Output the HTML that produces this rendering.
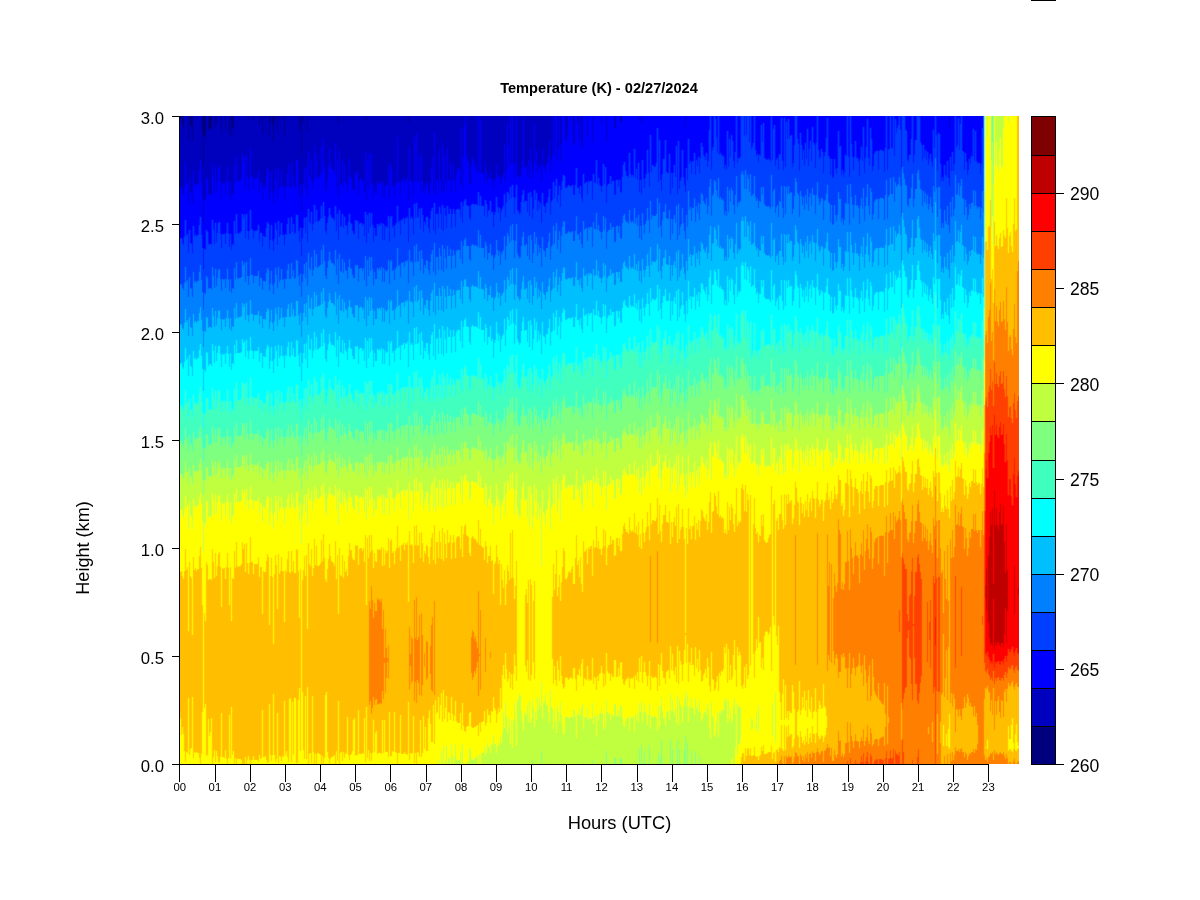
<!DOCTYPE html>
<html><head><meta charset="utf-8"><title>Temperature (K) - 02/27/2024</title>
<style>
html,body{margin:0;padding:0;background:#fff;}
body{width:1200px;height:900px;overflow:hidden;}
svg{display:block;will-change:transform;}
text{font-family:"Liberation Sans",sans-serif;fill:#000;}
.ax{stroke:#000;stroke-width:1;fill:none;shape-rendering:crispEdges;}
.yl{font-size:16.7px;text-anchor:end;}
.xl{font-size:11.3px;text-anchor:middle;}
.cl{font-size:17.6px;text-anchor:start;}
</style></head><body>
<svg width="1200" height="900" viewBox="0 0 1200 900">
<rect width="1200" height="900" fill="#fff"/>
<rect x="1031" y="0" width="25" height="1" fill="#000" shape-rendering="crispEdges"/>
<text x="599" y="92.5" text-anchor="middle" font-size="14.6" font-weight="bold">Temperature (K) - 02/27/2024</text>
<defs><filter id="soft" x="179" y="116" width="840" height="648" filterUnits="userSpaceOnUse"><feConvolveMatrix order="3 3" kernelMatrix="0 0.08 0 0.14 0.56 0.14 0 0.08 0" edgeMode="duplicate" preserveAlpha="true"/></filter>
<clipPath id="pc"><rect x="179" y="116" width="840" height="648"/></clipPath></defs>
<rect x="179" y="116" width="840" height="648" fill="#FFBF00"/>
<g clip-path="url(#pc)"><g filter="url(#soft)"><g transform="translate(0.5,0)" fill="none" stroke-width="1" shape-rendering="crispEdges">
<path stroke="#00007F" d="M179 116v4M180 116v3M181 116v2M182 116v9M183 116v12M184 116v1M188 116v25M190 116v9M191 116v11M192 116v25M196 116v2M202 116v18M203 116v50M204 116v20M205 116v22M208 116v14M209 116v12M210 116v13M211 116v14M214 116v12M216 116v9M221 116v18M225 116v13M229 116v17M231 116v21M232 116v11M233 116v13M245 116v1M248 116v5M253 116v4M259 116v9M262 116v18M264 116v2M265 116v2M269 116v21M270 116v7M272 116v9M273 116v26M274 116v5M277 116v16M279 116v4M280 116v1M282 116v1M284 116v19M299 116v15M301 116v38M302 116v8M307 116v16M326 116v1M338 116v7M366 116v5M373 116v2M408 116v6"/>
<path stroke="#0000BF" d="M179 120v69M180 119v69M181 118v69M182 125v68M183 128v67M184 117v70M185 116v46M186 116v69M187 116v66M188 141v63M189 116v61M190 125v67M191 127v67M192 141v63M193 116v55M194 116v69M195 116v68M196 118v69M197 116v68M198 116v68M199 116v54M200 116v44M201 116v67M202 134v64M203 166v56M204 136v64M205 138v63M206 116v61M207 116v63M208 130v65M209 128v66M210 129v65M211 130v66M212 116v47M213 116v61M214 128v66M215 116v51M216 125v67M217 116v65M218 116v52M219 116v50M220 116v66M221 134v64M222 116v67M223 116v68M224 116v66M225 129v66M226 116v65M227 116v51M228 116v67M229 133v65M230 116v66M231 137v64M232 127v67M233 129v66M234 116v49M235 116v67M236 116v39M237 116v64M238 116v66M239 116v65M240 116v65M241 116v62M242 116v38M243 116v46M244 116v41M245 117v70M246 116v39M247 116v61M248 121v69M249 116v62M250 116v33M251 116v60M252 116v61M253 120v69M254 116v63M255 116v62M256 116v62M257 116v62M258 116v55M259 125v68M260 116v66M261 116v67M262 134v65M263 116v70M264 118v69M265 118v70M266 116v60M267 116v52M268 116v55M269 137v64M270 123v69M271 116v56M272 125v67M273 142v62M274 121v69M275 116v53M276 116v64M277 132v65M278 116v52M279 120v69M280 117v70M281 116v55M282 117v70M283 116v71M284 135v64M285 116v70M286 116v71M287 116v58M288 116v48M289 116v71M290 116v72M291 116v47M292 116v70M293 116v59M294 116v72M295 116v71M296 116v44M297 116v45M298 116v70M299 131v66M300 116v68M301 154v57M302 124v69M303 116v68M304 116v52M305 116v73M306 116v50M307 132v66M308 116v35M309 116v61M310 116v64M311 116v43M312 116v73M313 116v66M314 116v30M315 116v61M316 116v38M317 116v63M318 116v62M319 116v60M320 116v58M321 116v30M322 116v56M323 116v22M324 116v51M325 116v73M326 117v75M327 116v64M328 116v51M329 116v32M330 116v47M331 116v53M332 116v54M333 116v55M334 116v59M335 116v27M336 116v72M337 116v44M338 123v74M339 116v34M340 116v68M341 116v69M342 116v43M343 116v70M344 116v49M345 116v66M346 116v68M347 116v76M348 116v61M349 116v42M350 116v61M351 116v63M352 116v72M353 116v74M354 116v75M355 116v56M356 116v58M357 116v56M358 116v80M359 116v65M360 116v62M361 116v63M362 116v67M363 116v65M364 116v77M365 116v36M366 121v79M367 116v44M368 116v74M369 116v37M370 116v69M371 116v38M372 116v67M373 118v81M374 116v70M375 116v77M376 116v78M377 116v66M378 116v68M379 116v67M380 116v68M381 116v65M382 116v81M383 116v66M384 116v81M385 116v69M386 116v70M387 116v69M388 116v48M389 116v83M390 116v54M391 116v49M392 116v71M393 116v70M394 116v80M395 116v69M396 116v67M397 116v21M398 116v67M399 116v66M400 116v78M401 116v65M402 116v65M403 116v62M404 116v69M405 116v63M406 116v65M407 116v61M408 122v79M409 116v32M410 116v66M411 116v65M412 116v66M413 116v79M414 116v21M415 116v66M416 116v17M417 116v66M418 116v66M419 116v40M420 116v75M421 116v37M422 116v65M423 116v78M424 116v70M425 116v73M426 116v66M427 116v67M428 116v75M429 116v79M430 116v68M431 116v53M432 116v41M433 116v77M434 116v16M435 116v80M436 116v64M437 116v64M438 116v75M439 116v34M440 116v64M441 116v76M442 116v26M443 116v77M444 116v40M445 116v66M446 116v75M447 116v32M448 116v64M449 116v64M450 116v46M451 116v76M452 116v65M453 116v48M454 116v64M455 116v75M456 116v58M457 116v52M458 116v53M459 116v54M460 116v68M461 116v12M462 116v72M463 116v41M464 116v10M465 116v1M466 116v40M467 116v44M468 116v47M469 116v67M470 116v69M471 116v50M472 116v41M473 116v44M474 116v51M475 116v48M476 116v54M477 116v56M479 116v57M480 116v3M481 116v57M482 116v57M483 116v58M484 116v66M485 116v47M486 116v56M487 116v67M488 116v62M489 116v62M490 116v55M491 116v64M492 116v63M493 116v73M494 116v65M495 116v63M496 116v48M497 116v59M498 116v63M499 116v60M500 116v69M501 116v62M502 116v60M503 116v58M504 116v28M505 116v65M506 116v55M507 116v7M508 116v30M509 116v51M511 116v48M513 116v47M514 116v62M515 116v48M517 116v59M518 116v60M519 116v62M520 116v61M521 116v52M522 116v45M523 116v1M524 116v52M525 116v51M526 116v50M527 116v59M528 116v44M529 116v62M530 116v32M531 116v46M532 116v63M533 116v55M534 116v7M535 116v48M536 116v35M537 116v57M538 116v48M539 116v54M540 116v49M541 116v65M542 116v32M543 116v50M544 116v51M545 116v56M546 116v48M547 116v47M548 116v39M549 116v24M550 116v56M551 116v44M552 116v41M554 116v39M557 116v44M558 116v33M560 116v46M561 116v28M565 116v25M566 116v25M567 116v19M570 116v10M571 116v1M573 116v29M574 116v29M577 116v9M578 116v5M579 116v25M581 116v29M582 116v33M587 116v20M592 116v27M601 116v9M606 116v26M614 116v13M615 116v12M620 116v6M621 116v7M639 116v4M641 116v7M670 116v2M685 116v11M949 116v13"/>
<path stroke="#0000FF" d="M179 189v50M180 188v51M181 187v51M182 193v50M183 195v50M184 187v50M185 162v58M186 185v51M187 182v52M188 204v49M189 177v53M190 192v51M191 194v50M192 204v49M193 171v55M194 185v51M195 184v51M196 187v50M197 184v51M198 184v51M199 170v55M200 160v57M201 183v52M202 198v50M203 222v47M204 200v49M205 201v49M206 177v53M207 179v53M208 195v50M209 194v50M210 194v50M211 196v49M212 163v57M213 177v53M214 194v50M215 167v56M216 192v50M217 181v52M218 168v55M219 166v56M220 182v52M221 198v50M222 183v51M223 184v51M224 182v52M225 195v49M226 181v52M227 167v56M228 183v51M229 198v49M230 182v52M231 201v49M232 194v50M233 195v50M234 165v56M235 183v51M236 155v59M237 180v53M238 182v52M239 181v52M240 181v52M241 178v53M242 154v60M243 162v57M244 157v58M245 187v51M246 155v59M247 177v54M248 190v50M249 178v53M250 149v61M251 176v53M252 177v53M253 189v50M254 179v52M255 178v53M256 178v53M257 178v52M258 171v54M259 193v49M260 182v51M261 183v50M262 199v48M263 186v50M264 187v50M265 188v49M266 176v52M267 168v54M268 171v53M269 201v48M270 192v48M271 172v53M272 192v49M273 204v47M274 190v49M275 169v54M276 180v50M277 197v48M278 168v53M279 189v48M280 187v48M281 171v52M282 187v48M283 187v48M284 199v47M285 186v48M286 187v48M287 174v50M288 164v54M289 187v47M290 188v46M291 163v54M292 186v46M293 175v49M294 188v46M295 187v46M296 160v55M297 161v54M298 186v45M299 197v45M300 184v44M301 211v45M302 193v45M303 184v44M304 168v50M305 189v44M306 166v51M307 198v44M308 151v58M309 177v45M310 180v44M311 159v53M312 189v42M313 182v42M314 146v59M315 177v45M316 154v56M317 179v43M318 178v43M319 176v45M320 174v45M321 146v60M322 172v46M323 138v64M324 167v49M325 189v42M326 192v42M327 180v43M328 167v50M329 148v60M330 163v52M331 169v49M332 170v48M333 171v48M334 175v46M335 143v63M336 188v43M337 160v54M338 197v43M339 150v60M340 184v42M341 185v42M342 159v55M343 186v42M344 165v52M345 182v43M346 184v42M347 192v43M348 177v45M349 158v56M350 177v46M351 179v45M352 188v43M353 190v44M354 191v43M355 172v48M356 174v47M357 172v49M358 196v43M359 181v43M360 178v45M361 179v44M362 183v43M363 181v43M364 193v43M365 152v60M366 200v43M367 160v55M368 190v43M369 153v60M370 185v42M371 154v59M372 183v42M373 199v43M374 186v42M375 193v43M376 194v42M377 182v42M378 184v42M379 183v41M380 184v42M381 181v42M382 197v43M383 182v42M384 197v43M385 185v41M386 186v42M387 185v42M388 164v52M389 199v43M390 170v48M391 165v51M392 187v41M393 186v40M394 196v41M395 185v40M396 183v40M397 137v69M398 183v40M399 182v39M400 194v41M401 181v39M402 181v39M403 178v40M404 185v39M405 179v39M406 181v38M407 177v40M408 201v41M409 148v60M410 182v37M411 181v36M412 182v37M413 195v39M414 137v67M415 182v36M416 133v70M417 182v36M418 182v35M419 156v53M420 191v38M421 153v55M422 181v34M423 194v38M424 186v36M425 189v36M426 182v35M427 183v34M428 191v37M429 195v38M430 184v35M431 169v42M432 157v51M433 193v37M434 132v71M435 196v38M436 180v34M437 180v34M438 191v37M439 150v57M440 180v34M441 192v37M442 142v63M443 193v38M444 156v52M445 182v34M446 191v37M447 148v58M448 180v34M449 180v34M450 162v47M451 192v36M452 181v33M453 164v45M454 180v34M455 191v36M456 174v36M457 168v41M458 169v40M459 170v40M460 184v34M461 128v74M462 188v35M463 157v49M464 126v75M465 117v82M466 156v49M467 160v46M468 163v43M469 183v35M470 185v35M471 166v39M472 157v47M473 160v44M474 167v38M475 164v40M476 170v35M477 172v33M478 116v76M479 173v33M480 119v77M481 173v33M482 173v33M483 174v32M484 182v34M485 163v37M486 172v32M487 183v34M488 178v33M489 178v32M490 171v30M491 180v33M492 179v33M493 189v38M494 181v34M495 179v33M496 164v33M497 175v32M498 179v34M499 176v32M500 185v37M501 178v33M502 176v33M503 174v32M504 144v50M505 181v36M506 171v32M507 123v69M508 146v48M509 167v33M510 116v71M511 164v34M512 116v69M513 163v34M514 178v36M515 164v34M516 116v69M517 175v35M518 176v36M519 178v37M520 177v36M521 168v34M522 161v34M523 117v73M524 168v35M525 167v34M526 166v35M527 175v37M528 160v33M529 178v38M530 148v44M531 162v35M532 179v40M533 171v38M534 123v67M535 164v36M536 151v42M537 173v38M538 164v37M539 170v39M540 165v38M541 181v42M542 148v45M543 166v39M544 167v40M545 172v41M546 164v39M547 163v40M548 155v42M549 140v49M550 172v43M551 160v42M552 157v43M553 116v66M554 155v43M555 116v70M556 116v63M557 160v43M558 149v46M559 116v70M560 162v45M561 144v46M562 116v65M563 116v59M564 116v60M565 141v47M566 141v47M567 135v52M568 116v69M569 116v70M570 126v61M571 117v69M572 116v69M573 145v50M574 145v50M575 116v69M576 116v52M577 125v63M578 121v67M579 141v53M580 116v70M581 145v53M582 149v53M583 116v58M584 116v68M585 116v67M586 116v66M587 136v59M588 116v65M589 116v67M590 116v65M591 116v65M592 143v57M593 116v58M594 116v67M595 116v67M596 116v44M597 116v68M598 116v62M599 116v69M600 116v70M601 125v67M602 116v70M603 116v48M604 116v68M605 116v51M606 142v61M607 116v70M608 116v68M609 116v68M610 116v60M611 116v68M612 116v65M613 116v65M614 129v66M615 128v67M616 116v64M617 116v64M618 116v71M619 116v64M620 122v70M621 123v70M622 116v61M623 116v49M624 116v46M625 116v55M626 116v60M627 116v60M628 116v62M629 116v37M630 116v58M631 116v61M632 116v59M633 116v61M634 116v33M635 116v62M636 116v53M637 116v64M638 116v47M639 120v72M640 116v64M641 123v71M642 116v44M643 116v63M644 116v72M645 116v62M646 116v58M647 116v34M648 116v57M649 116v71M650 116v19M651 116v56M652 116v49M653 116v50M654 116v51M655 116v51M656 116v47M657 116v12M658 116v66M659 116v24M660 116v64M661 116v75M662 116v58M663 116v43M664 116v43M665 116v24M666 116v56M667 116v57M668 116v57M669 116v38M670 118v76M671 116v57M672 116v72M673 116v57M674 116v49M675 116v61M676 116v30M677 116v78M678 116v25M679 116v73M680 116v65M681 116v62M682 116v34M683 116v61M684 116v69M685 127v65M686 116v52M687 116v64M688 116v23M689 116v48M690 116v45M691 116v58M692 116v46M693 116v45M694 116v37M695 116v59M696 116v44M697 116v50M698 116v41M699 116v57M700 116v42M701 116v27M702 116v31M703 116v39M704 116v41M705 116v44M706 116v37M707 116v51M708 116v45M709 116v14M711 116v54M712 116v34M713 116v31M715 116v3M716 116v22M717 116v37M719 116v39M720 116v37M721 116v40M722 116v39M723 116v41M724 116v53M725 116v49M726 116v54M727 116v15M728 116v51M729 116v23M730 116v41M731 116v19M732 116v25M733 116v45M734 116v52M735 116v36M737 116v47M738 116v42M739 116v43M740 116v41M744 116v20M746 116v19M749 116v26M751 116v33M752 116v31M753 116v27M755 116v34M756 116v40M757 116v38M758 116v46M759 116v39M760 116v40M761 116v9M762 116v26M763 116v7M764 116v42M765 116v43M766 116v44M767 116v44M768 116v43M769 116v44M770 116v46M772 116v44M773 116v13M774 116v9M775 116v50M776 116v44M777 116v42M778 116v54M779 116v38M780 116v39M781 116v2M782 116v45M783 116v54M784 116v2M785 116v51M786 116v6M787 116v23M788 116v3M789 116v23M790 116v20M791 116v19M792 116v51M793 116v47M794 116v29M797 116v23M798 116v28M799 116v55M800 116v17M801 116v29M802 116v44M803 116v34M804 116v49M805 116v27M806 116v43M807 116v13M808 116v50M809 116v33M810 116v25M811 116v45M812 116v11M813 116v27M814 116v29M815 116v52M816 116v27M818 116v34M819 116v43M820 116v41M821 116v33M822 116v36M823 116v57M824 116v40M825 116v36M826 116v22M827 116v2M828 116v40M829 116v42M830 116v59M831 116v43M832 116v62M833 116v61M834 116v43M835 116v53M836 116v58M837 116v52M838 116v15M839 116v31M840 116v30M841 116v59M842 116v54M843 116v61M844 116v57M845 116v39M846 116v40M848 116v41M849 116v61M851 116v28M852 116v41M853 116v54M854 116v41M855 116v25M856 116v42M857 116v42M858 116v45M859 116v60M860 116v43M861 116v31M862 116v45M863 116v11M864 116v57M865 116v42M866 116v31M867 116v3M868 116v42M869 116v50M870 116v12M871 116v23M872 116v55M873 116v50M874 116v38M875 116v36M876 116v35M877 116v35M878 116v54M879 116v35M880 116v34M881 116v34M882 116v35M883 116v35M884 116v56M885 116v32M887 116v54M888 116v34M889 116v33M891 116v32M892 116v32M894 116v40M895 116v3M896 116v17M897 116v12M898 116v9M900 116v14M901 116v54M905 116v14M906 116v15M907 116v44M908 116v46M909 116v39M910 116v39M911 116v23M913 116v47M914 116v39M915 116v24M916 116v24M919 116v1M920 116v26M921 116v29M922 116v45M923 116v29M924 116v42M925 116v34M926 116v44M927 116v36M928 116v49M929 116v43M930 116v38M931 116v46M932 116v51M933 116v14M934 116v32M936 116v19M937 116v55M938 116v17M939 116v18M940 116v48M941 116v65M942 116v61M943 116v65M944 116v49M945 116v59M946 116v61M947 116v45M948 116v62M949 129v57M950 116v41M951 116v55M952 116v36M953 116v55M954 116v48M956 116v32M957 116v29M958 116v2M959 116v34M960 116v8M962 116v35M963 116v36M964 116v54M965 116v37M966 116v46M967 116v59M968 116v54M969 116v43M970 116v48M971 116v40M972 116v41M973 116v13M974 116v45M975 116v15M976 116v45M977 116v48M978 116v47M979 116v47M980 116v58M981 116v48M982 116v12M983 116v52"/>
<path stroke="#003FFF" d="M179 239v46M180 239v46M181 238v46M182 243v45M183 245v45M184 237v46M185 220v47M186 236v46M187 234v46M188 253v44M189 230v47M190 243v45M191 244v45M192 253v44M193 226v46M194 236v46M195 235v46M196 237v46M197 235v46M198 235v46M199 225v47M200 217v48M201 235v45M202 248v44M203 269v41M204 249v44M205 250v44M206 230v46M207 232v46M208 245v44M209 244v44M210 244v44M211 245v45M212 220v47M213 230v46M214 244v44M215 223v46M216 242v44M217 233v45M218 223v47M219 222v47M220 234v45M221 248v43M222 234v45M223 235v45M224 234v45M225 244v44M226 233v46M227 223v46M228 234v46M229 247v44M230 234v45M231 250v43M232 244v44M233 245v44M234 221v47M235 234v46M236 214v48M237 233v45M238 234v45M239 233v45M240 233v45M241 231v46M242 214v47M243 219v47M244 215v48M245 238v44M246 214v48M247 231v45M248 240v45M249 231v45M250 210v48M251 229v46M252 230v45M253 239v44M254 231v45M255 231v45M256 231v45M257 230v46M258 225v46M259 242v44M260 233v45M261 233v45M262 247v43M263 236v45M264 237v44M265 237v45M266 228v45M267 222v46M268 224v46M269 249v42M270 240v44M271 225v46M272 241v44M273 251v43M274 239v44M275 223v45M276 230v45M277 245v43M278 221v46M279 237v45M280 235v45M281 223v46M282 235v45M283 235v44M284 246v43M285 234v45M286 235v44M287 224v46M288 218v46M289 234v45M290 234v45M291 217v46M292 232v45M293 224v46M294 234v45M295 233v45M296 215v45M297 215v46M298 231v45M299 242v44M300 228v46M301 256v41M302 238v44M303 228v46M304 218v46M305 233v45M306 217v45M307 242v44M308 209v44M309 222v46M310 224v46M311 212v45M312 231v45M313 224v46M314 205v45M315 222v45M316 210v44M317 222v46M318 221v46M319 221v45M320 219v46M321 206v44M322 218v46M323 202v43M324 216v45M325 231v45M326 234v45M327 223v45M328 217v44M329 208v44M330 215v45M331 218v45M332 218v45M333 219v45M334 221v45M335 206v44M336 231v44M337 214v45M338 240v44M339 210v44M340 226v45M341 227v45M342 214v45M343 228v45M344 217v45M345 225v45M346 226v45M347 235v44M348 222v45M349 214v45M350 223v45M351 224v45M352 231v44M353 234v44M354 234v44M355 220v45M356 221v45M357 221v44M358 239v43M359 224v45M360 223v45M361 223v45M362 226v45M363 224v44M364 236v44M365 212v44M366 243v43M367 215v45M368 233v43M369 213v44M370 227v44M371 213v44M372 225v44M373 242v43M374 228v44M375 236v43M376 236v43M377 224v44M378 226v44M379 224v44M380 226v44M381 223v44M382 240v42M383 224v44M384 240v42M385 226v44M386 228v44M387 227v43M388 216v44M389 242v42M390 218v44M391 216v44M392 228v43M393 226v44M394 237v43M395 225v44M396 223v44M397 206v42M398 223v43M399 221v44M400 235v42M401 220v43M402 220v43M403 218v44M404 224v43M405 218v43M406 219v43M407 217v43M408 242v41M409 208v42M410 219v43M411 217v44M412 219v44M413 234v42M414 204v42M415 218v44M416 203v41M417 218v44M418 217v44M419 209v42M420 229v42M421 208v42M422 215v44M423 232v42M424 222v43M425 225v43M426 217v43M427 217v44M428 228v42M429 233v42M430 219v43M431 211v43M432 208v42M433 230v42M434 203v40M435 234v41M436 214v43M437 214v43M438 228v42M439 207v41M440 214v42M441 229v41M442 205v40M443 231v41M444 208v41M445 216v42M446 228v41M447 206v40M448 214v42M449 214v42M450 209v40M451 228v41M452 214v42M453 209v41M454 214v41M455 227v41M456 210v41M457 209v41M458 209v41M459 210v40M460 218v41M461 202v39M462 223v41M463 206v40M464 201v39M465 199v39M466 205v41M467 206v40M468 206v40M469 218v41M470 220v41M471 205v41M472 204v40M473 204v41M474 205v41M475 204v41M476 205v41M477 205v42M478 192v38M479 206v42M480 196v39M481 206v42M482 206v42M483 206v42M484 216v42M485 200v42M486 204v42M487 217v43M488 211v42M489 210v43M490 201v43M491 213v43M492 212v43M493 227v43M494 215v43M495 212v43M496 197v43M497 207v43M498 213v43M499 208v43M500 222v43M501 211v43M502 209v43M503 206v44M504 194v42M505 217v43M506 203v43M507 192v41M508 194v42M509 200v43M510 187v39M511 198v43M512 185v39M513 197v43M514 214v44M515 198v43M516 185v39M517 210v43M518 212v44M519 215v44M520 213v44M521 202v44M522 195v42M523 190v42M524 203v43M525 201v44M526 201v43M527 212v44M528 193v43M529 216v44M530 192v43M531 197v43M532 219v44M533 209v44M534 190v42M535 200v44M536 193v44M537 211v45M538 201v44M539 209v44M540 203v45M541 223v44M542 193v44M543 205v45M544 207v44M545 213v44M546 203v45M547 203v45M548 197v45M549 189v44M550 215v45M551 202v45M552 200v45M553 182v44M554 198v46M555 186v45M556 179v44M557 203v46M558 195v45M559 186v45M560 207v46M561 190v46M562 181v46M563 175v46M564 176v46M565 188v46M566 188v46M567 187v46M568 185v46M569 186v46M570 187v46M571 186v46M572 185v46M573 195v46M574 195v46M575 185v46M576 168v48M577 188v47M578 188v46M579 194v46M580 186v46M581 198v46M582 202v46M583 174v47M584 184v46M585 183v46M586 182v46M587 195v46M588 181v46M589 183v46M590 181v46M591 181v46M592 200v47M593 174v48M594 183v46M595 183v46M596 160v53M597 184v46M598 178v47M599 185v46M600 186v46M601 192v47M602 186v46M603 164v52M604 184v46M605 167v51M606 203v46M607 186v46M608 184v46M609 184v46M610 176v47M611 184v46M612 181v46M613 181v46M614 195v47M615 195v47M616 180v46M617 180v46M618 187v46M619 180v46M620 192v46M621 193v46M622 177v46M623 165v51M624 162v52M625 171v49M626 176v46M627 176v46M628 178v46M629 153v57M630 174v47M631 177v46M632 175v46M633 177v46M634 149v59M635 178v46M636 169v49M637 180v46M638 163v52M639 192v46M640 180v46M641 194v46M642 160v53M643 179v46M644 188v46M645 178v46M646 174v47M647 150v58M648 173v47M649 187v46M650 135v66M651 172v47M652 165v50M653 166v50M654 167v49M655 167v49M656 163v51M657 128v70M658 182v46M659 140v63M660 180v46M661 191v46M662 174v46M663 159v53M664 159v53M665 140v64M666 172v46M667 173v46M668 173v46M669 154v56M670 194v46M671 173v46M672 188v46M673 173v46M674 165v50M675 177v46M676 146v60M677 194v46M678 141v63M679 189v46M680 181v46M681 178v46M682 150v58M683 177v46M684 185v46M685 192v47M686 168v47M687 180v47M688 139v52M689 164v46M690 161v46M691 174v47M692 162v46M693 161v47M694 153v45M695 175v47M696 160v46M697 166v47M698 157v46M699 173v47M700 158v46M701 143v50M702 147v48M703 155v46M704 157v46M705 160v45M706 153v45M707 167v47M708 161v45M709 130v57M710 116v63M711 170v46M712 150v46M713 147v47M714 116v64M715 119v63M716 138v52M717 153v44M718 116v62M719 155v44M720 153v44M721 156v44M722 155v44M723 157v44M724 169v46M725 165v46M726 170v46M727 131v56M728 167v45M729 139v51M730 157v45M731 135v53M732 141v50M733 161v44M734 168v46M735 152v43M736 116v60M737 163v44M738 158v44M739 159v44M740 157v44M741 116v58M742 116v55M743 116v59M744 136v53M745 116v54M746 135v54M747 116v59M748 116v63M749 142v50M750 116v58M751 149v47M752 147v48M753 143v51M754 116v60M755 150v47M756 156v45M757 154v45M758 162v46M759 155v46M760 156v46M761 125v62M762 142v53M763 123v64M764 158v46M765 159v47M766 160v46M767 160v47M768 159v47M769 160v47M770 162v47M771 116v59M772 160v47M773 129v62M774 125v64M775 166v47M776 160v47M777 158v47M778 170v47M779 154v47M780 155v47M781 118v68M782 161v47M783 170v48M784 118v68M785 167v47M786 122v65M787 139v55M788 119v67M789 139v55M790 136v57M791 135v57M792 167v47M793 163v46M794 145v51M795 116v62M796 116v66M797 139v54M798 144v51M799 171v46M800 133v58M801 145v51M802 160v45M803 150v47M804 165v45M805 143v52M806 159v45M807 129v60M808 166v45M809 149v48M810 141v52M811 161v45M812 127v61M813 143v52M814 145v50M815 168v46M816 143v52M817 116v66M818 150v48M819 159v46M820 157v45M821 149v49M822 152v47M823 173v47M824 156v45M825 152v48M826 138v56M827 118v67M828 156v46M829 158v46M830 175v47M831 159v46M832 178v47M833 177v47M834 159v46M835 169v46M836 174v47M837 168v47M838 131v61M839 147v52M840 146v53M841 175v47M842 170v48M843 177v48M844 173v47M845 155v48M846 156v48M847 116v69M848 157v47M849 177v48M850 116v68M851 144v53M852 157v48M853 170v48M854 157v48M855 141v54M856 158v48M857 158v47M858 161v47M859 176v48M860 159v47M861 147v51M862 161v48M863 127v61M864 173v48M865 158v48M866 147v50M867 119v65M868 158v48M869 166v49M870 128v60M871 139v53M872 171v49M873 166v48M874 154v48M875 152v48M876 151v48M877 151v48M878 170v49M879 151v48M880 150v48M881 150v48M882 151v47M883 151v48M884 172v48M885 148v47M886 116v64M887 170v49M888 150v47M889 149v46M890 116v62M891 148v46M892 148v46M893 116v61M894 156v46M895 119v63M896 133v54M897 128v57M898 125v59M899 116v61M900 130v56M901 170v47M902 116v51M903 116v57M904 116v63M905 130v55M906 131v55M907 160v45M908 162v45M909 155v44M910 155v43M911 139v49M912 116v58M913 163v44M914 155v44M915 140v49M916 140v49M917 116v57M918 116v54M919 117v63M920 142v47M921 145v45M922 161v45M923 145v46M924 158v44M925 150v43M926 160v44M927 152v43M928 165v45M929 159v45M930 154v43M931 162v45M932 167v46M933 130v56M934 148v44M935 116v42M936 135v53M937 171v46M938 133v54M939 134v53M940 164v45M941 181v47M942 177v46M943 181v47M944 165v45M945 175v46M946 177v47M947 161v45M948 178v47M949 186v47M950 157v45M951 171v46M952 152v45M953 171v45M954 164v45M955 116v59M956 148v47M957 145v49M958 118v65M959 150v46M960 124v62M961 116v63M962 151v47M963 152v47M964 170v45M965 153v47M966 162v45M967 175v45M968 170v45M969 159v45M970 164v45M971 156v47M972 157v46M973 129v61M974 161v45M975 131v60M976 161v45M977 164v45M978 163v44M979 163v44M980 174v45M981 164v44M982 128v63M983 168v44"/>
<path stroke="#007FFF" d="M179 285v40M180 285v40M181 284v40M182 288v40M183 290v40M184 283v40M185 267v42M186 282v40M187 280v40M188 297v39M189 277v40M190 288v39M191 289v39M192 297v39M193 272v42M194 282v40M195 281v40M196 283v40M197 281v40M198 281v40M199 272v41M200 265v42M201 280v40M202 292v39M203 310v37M204 293v38M205 294v38M206 276v41M207 278v40M208 289v39M209 288v39M210 288v39M211 290v38M212 267v41M213 276v40M214 288v39M215 269v42M216 286v39M217 278v40M218 270v41M219 269v41M220 279v40M221 291v39M222 279v40M223 280v40M224 279v40M225 288v39M226 279v39M227 269v41M228 280v39M229 291v38M230 279v39M231 293v38M232 288v38M233 289v38M234 268v40M235 280v39M236 262v41M237 278v39M238 279v39M239 278v39M240 278v39M241 277v39M242 261v42M243 266v41M244 263v41M245 282v38M246 262v41M247 276v39M248 285v37M249 276v39M250 258v42M251 275v39M252 275v39M253 283v38M254 276v39M255 276v39M256 276v39M257 276v39M258 271v40M259 286v38M260 278v38M261 278v38M262 290v38M263 281v38M264 281v38M265 282v38M266 273v39M267 268v40M268 270v40M269 291v38M270 284v38M271 271v39M272 285v38M273 294v37M274 283v38M275 268v40M276 275v39M277 288v38M278 267v40M279 282v38M280 280v38M281 269v39M282 280v38M283 279v38M284 289v38M285 279v38M286 279v38M287 270v39M288 264v40M289 279v38M290 279v38M291 263v40M292 277v38M293 270v39M294 279v38M295 278v38M296 260v41M297 261v40M298 276v39M299 286v39M300 274v39M301 297v40M302 282v39M303 274v39M304 264v40M305 278v39M306 262v41M307 286v39M308 253v42M309 268v40M310 270v39M311 257v41M312 276v40M313 270v39M314 250v42M315 267v40M316 254v41M317 268v39M318 267v39M319 266v40M320 265v40M321 250v42M322 264v40M323 245v43M324 261v40M325 276v40M326 279v39M327 268v40M328 261v41M329 252v41M330 260v40M331 263v40M332 263v40M333 264v40M334 266v40M335 250v42M336 275v40M337 259v40M338 284v40M339 254v41M340 271v39M341 272v39M342 259v40M343 273v39M344 262v40M345 270v39M346 271v39M347 279v39M348 267v40M349 259v41M350 268v39M351 269v39M352 275v39M353 278v39M354 278v40M355 265v40M356 266v40M357 265v40M358 282v40M359 269v39M360 268v39M361 268v39M362 271v39M363 268v40M364 280v39M365 256v41M366 286v40M367 260v40M368 276v40M369 257v40M370 271v40M371 257v41M372 269v40M373 285v40M374 272v39M375 279v40M376 279v40M377 268v40M378 270v39M379 268v40M380 270v40M381 267v40M382 282v40M383 268v40M384 282v40M385 270v40M386 272v40M387 270v40M388 260v40M389 284v40M390 262v40M391 260v40M392 271v40M393 270v40M394 280v40M395 269v40M396 267v40M397 248v42M398 266v40M399 265v40M400 277v40M401 263v40M402 263v40M403 262v40M404 267v40M405 261v40M406 262v40M407 260v40M408 283v41M409 250v41M410 262v40M411 261v40M412 263v40M413 276v41M414 246v41M415 262v39M416 244v41M417 262v40M418 261v39M419 251v40M420 271v40M421 250v40M422 259v39M423 274v41M424 265v40M425 268v40M426 260v40M427 261v39M428 270v40M429 275v41M430 262v39M431 254v39M432 250v40M433 272v40M434 243v40M435 275v40M436 257v39M437 257v39M438 270v40M439 248v40M440 256v40M441 270v40M442 245v41M443 272v40M444 249v40M445 258v39M446 269v40M447 246v40M448 256v40M449 256v40M450 249v40M451 269v40M452 256v40M453 250v40M454 255v40M455 268v40M456 251v40M457 250v40M458 250v40M459 250v40M460 259v40M461 241v40M462 264v40M463 246v41M464 240v40M465 238v41M466 246v40M467 246v41M468 246v41M469 259v40M470 261v41M471 246v41M472 244v41M473 245v41M474 246v41M475 245v41M476 246v41M477 247v41M478 230v41M479 248v41M480 235v42M481 248v41M482 248v41M483 248v42M484 258v41M485 242v42M486 246v42M487 260v41M488 253v42M489 253v42M490 244v42M491 256v42M492 255v42M493 270v41M494 258v41M495 255v42M496 240v43M497 250v42M498 256v42M499 251v42M500 265v41M501 254v42M502 252v42M503 250v42M504 236v44M505 260v42M506 246v43M507 233v44M508 236v44M509 243v43M510 226v44M511 241v43M512 224v44M513 240v44M514 258v42M515 241v44M516 224v44M517 253v43M518 256v42M519 259v42M520 257v42M521 246v43M522 237v45M523 232v44M524 246v44M525 245v44M526 244v44M527 256v43M528 236v45M529 260v43M530 235v45M531 240v45M532 263v42M533 253v43M534 232v45M535 244v44M536 237v45M537 256v43M538 245v44M539 253v44M540 248v43M541 267v42M542 237v45M543 250v43M544 251v44M545 257v43M546 248v44M547 248v44M548 242v44M549 233v45M550 260v42M551 247v44M552 245v44M553 226v46M554 244v44M555 231v46M556 223v46M557 249v43M558 240v45M559 231v46M560 253v43M561 236v45M562 227v46M563 221v46M564 222v46M565 234v45M566 234v46M567 233v46M568 231v47M569 232v46M570 233v46M571 232v46M572 231v46M573 241v45M574 241v45M575 231v46M576 216v46M577 235v45M578 234v46M579 240v45M580 232v46M581 244v44M582 248v44M583 221v47M584 230v46M585 229v47M586 228v46M587 241v45M588 227v46M589 229v46M590 227v46M591 227v47M592 247v43M593 222v47M594 229v47M595 229v46M596 213v47M597 230v46M598 225v46M599 231v47M600 232v46M601 239v44M602 232v46M603 216v47M604 230v46M605 218v47M606 249v43M607 232v46M608 230v46M609 230v46M610 223v46M611 230v45M612 227v46M613 227v46M614 242v43M615 242v43M616 226v46M617 226v46M618 233v45M619 226v46M620 238v44M621 239v43M622 223v46M623 216v47M624 214v47M625 220v46M626 222v46M627 222v46M628 224v46M629 210v46M630 221v46M631 223v46M632 221v46M633 223v46M634 208v46M635 224v46M636 218v46M637 226v45M638 215v46M639 238v43M640 226v45M641 240v43M642 213v46M643 225v45M644 234v43M645 224v46M646 221v45M647 208v46M648 220v46M649 233v44M650 201v46M651 219v46M652 215v46M653 216v46M654 216v46M655 216v46M656 214v46M657 198v46M658 228v44M659 203v46M660 226v45M661 237v42M662 220v46M663 212v46M664 212v46M665 204v46M666 218v46M667 219v46M668 219v46M669 210v46M670 240v41M671 219v46M672 234v42M673 219v46M674 215v46M675 223v45M676 206v46M677 240v41M678 204v46M679 235v42M680 227v44M681 224v45M682 208v46M683 223v44M684 231v43M685 239v41M686 215v46M687 227v44M688 191v48M689 210v47M690 207v47M691 221v45M692 208v47M693 208v47M694 198v48M695 222v45M696 206v47M697 213v46M698 203v48M699 220v45M700 204v48M701 193v49M702 195v49M703 201v48M704 203v48M705 205v48M706 198v49M707 214v45M708 206v47M709 187v48M710 179v47M711 216v45M712 196v48M713 194v49M714 180v47M715 182v48M716 190v49M717 197v49M718 178v47M719 199v49M720 197v49M721 200v49M722 199v49M723 201v48M724 215v46M725 211v46M726 216v45M727 187v48M728 212v46M729 190v49M730 202v47M731 188v49M732 191v48M733 205v48M734 214v45M735 195v49M736 176v47M737 207v47M738 202v47M739 203v48M740 201v48M741 174v47M742 171v46M743 175v46M744 189v48M745 170v46M746 189v48M747 175v47M748 179v47M749 192v49M750 174v47M751 196v49M752 195v49M753 194v49M754 176v47M755 197v49M756 201v49M757 199v49M758 208v49M759 201v49M760 202v49M761 187v49M762 195v49M763 187v49M764 204v49M765 206v49M766 206v49M767 207v49M768 206v49M769 207v49M770 209v49M771 175v48M772 207v49M773 191v49M774 189v49M775 213v49M776 207v49M777 205v49M778 217v48M779 201v50M780 202v49M781 186v48M782 208v49M783 218v47M784 186v48M785 214v48M786 187v48M787 194v49M788 186v48M789 194v49M790 193v48M791 192v49M792 214v47M793 209v48M794 196v49M795 178v47M796 182v48M797 193v49M798 195v49M799 217v47M800 191v48M801 196v48M802 205v48M803 197v49M804 210v48M805 195v47M806 204v47M807 189v47M808 211v47M809 197v47M810 193v48M811 206v48M812 188v47M813 195v47M814 195v48M815 214v47M816 195v48M817 182v47M818 198v48M819 205v47M820 202v48M821 198v48M822 199v48M823 220v46M824 201v48M825 200v48M826 194v48M827 185v48M828 202v48M829 204v48M830 222v46M831 205v48M832 225v46M833 224v46M834 205v48M835 215v47M836 221v47M837 215v47M838 192v47M839 199v48M840 199v48M841 222v46M842 218v46M843 225v46M844 220v47M845 203v48M846 204v48M847 185v47M848 204v48M849 225v46M850 184v48M851 197v48M852 205v48M853 218v47M854 205v48M855 195v48M856 206v48M857 205v48M858 208v48M859 224v47M860 206v48M861 198v48M862 209v48M863 188v49M864 221v47M865 206v48M866 197v49M867 184v49M868 206v49M869 215v47M870 188v49M871 192v50M872 220v47M873 214v48M874 202v49M875 200v49M876 199v49M877 199v49M878 219v47M879 199v49M880 198v50M881 198v49M882 198v50M883 199v49M884 220v47M885 195v50M886 180v49M887 219v46M888 197v49M889 195v50M890 178v49M891 194v50M892 194v50M893 177v49M894 202v49M895 182v49M896 187v50M897 185v49M898 184v49M899 177v48M900 186v49M901 217v46M902 167v46M903 173v47M904 179v48M905 185v49M906 186v49M907 205v47M908 207v47M909 199v49M910 198v49M911 188v50M912 174v46M913 207v48M914 199v48M915 189v49M916 189v49M917 173v46M918 170v46M919 180v48M920 189v49M921 190v50M922 206v47M923 191v49M924 202v48M925 193v49M926 204v48M927 195v49M928 210v47M929 204v47M930 197v49M931 207v47M932 213v46M933 186v47M934 192v49M935 158v44M936 188v48M937 217v46M938 187v48M939 187v48M940 209v47M941 228v44M942 223v45M943 228v45M944 210v47M945 221v46M946 224v45M947 206v47M948 225v45M949 233v45M950 202v48M951 217v46M952 197v48M953 216v46M954 209v47M955 175v46M956 195v47M957 194v47M958 183v47M959 196v47M960 186v46M961 179v46M962 198v47M963 199v47M964 215v46M965 200v47M966 207v47M967 220v45M968 215v46M969 204v47M970 209v47M971 203v47M972 203v47M973 190v46M974 206v46M975 191v46M976 206v47M977 209v46M978 207v47M979 207v47M980 219v45M981 208v47M982 191v46M983 212v46"/>
<path stroke="#00BFFF" d="M179 325v39M180 325v39M181 324v39M182 328v39M183 330v39M184 323v39M185 309v39M186 322v38M187 320v38M188 336v40M189 317v38M190 327v39M191 328v39M192 336v40M193 314v37M194 322v37M195 321v37M196 323v37M197 321v37M198 321v37M199 313v37M200 307v37M201 320v36M202 331v38M203 347v44M204 331v39M205 332v40M206 317v35M207 318v35M208 328v38M209 327v37M210 327v37M211 328v38M212 308v36M213 316v35M214 327v36M215 311v35M216 325v36M217 318v35M218 311v35M219 310v36M220 319v35M221 330v37M222 319v35M223 320v35M224 319v35M225 327v37M226 318v35M227 310v36M228 319v35M229 329v38M230 318v35M231 331v39M232 326v37M233 327v37M234 308v37M235 319v35M236 303v37M237 317v36M238 318v35M239 317v36M240 317v36M241 316v36M242 303v36M243 307v36M244 304v37M245 320v37M246 303v37M247 315v36M248 322v37M249 315v36M250 300v37M251 314v36M252 314v37M253 321v38M254 315v36M255 315v36M256 315v36M257 315v36M258 311v36M259 324v38M260 316v37M261 316v37M262 328v40M263 319v37M264 319v38M265 320v37M266 312v37M267 308v37M268 310v37M269 329v40M270 322v39M271 310v37M272 323v38M273 331v42M274 321v38M275 308v38M276 314v37M277 326v40M278 307v38M279 320v38M280 318v38M281 308v38M282 318v38M283 317v39M284 327v41M285 317v38M286 317v39M287 309v38M288 304v38M289 317v39M290 317v40M291 303v39M292 315v40M293 309v39M294 317v40M295 316v41M296 301v39M297 301v40M298 315v40M299 325v42M300 313v40M301 337v44M302 321v42M303 313v40M304 304v40M305 317v42M306 303v40M307 325v43M308 295v40M309 308v41M310 309v41M311 298v41M312 316v42M313 309v42M314 292v40M315 307v42M316 295v42M317 307v43M318 306v43M319 306v42M320 305v42M321 292v41M322 304v42M323 288v41M324 301v42M325 316v43M326 318v44M327 308v42M328 302v42M329 293v41M330 300v42M331 303v42M332 303v42M333 304v41M334 306v41M335 292v40M336 315v42M337 299v41M338 324v43M339 295v41M340 310v42M341 311v42M342 299v41M343 312v42M344 302v41M345 309v41M346 310v42M347 318v42M348 307v41M349 300v40M350 307v41M351 308v41M352 314v42M353 317v42M354 318v41M355 305v41M356 306v41M357 305v41M358 322v42M359 308v41M360 307v41M361 307v41M362 310v41M363 308v41M364 319v42M365 297v41M366 326v42M367 300v41M368 316v42M369 297v41M370 311v41M371 298v40M372 309v41M373 325v42M374 311v42M375 319v42M376 319v42M377 308v41M378 309v41M379 308v41M380 310v41M381 307v41M382 322v42M383 308v41M384 322v42M385 310v41M386 312v41M387 310v42M388 300v41M389 324v42M390 302v41M391 300v41M392 311v42M393 310v41M394 320v42M395 309v41M396 307v41M397 290v41M398 306v42M399 305v41M400 317v43M401 303v42M402 303v42M403 302v41M404 307v42M405 301v42M406 302v42M407 300v42M408 324v43M409 291v41M410 302v43M411 301v42M412 303v42M413 317v43M414 287v41M415 301v43M416 285v42M417 302v42M418 300v43M419 291v43M420 311v44M421 290v42M422 298v43M423 315v44M424 305v43M425 308v43M426 300v43M427 300v43M428 310v44M429 316v44M430 301v43M431 293v42M432 290v42M433 312v44M434 283v41M435 315v45M436 296v43M437 296v42M438 310v44M439 288v41M440 296v42M441 310v44M442 286v40M443 312v44M444 289v41M445 297v42M446 309v44M447 286v41M448 296v41M449 296v41M450 289v41M451 309v44M452 296v41M453 290v40M454 295v41M455 308v44M456 291v41M457 290v40M458 290v40M459 290v40M460 299v42M461 281v40M462 304v44M463 287v40M464 280v40M465 279v39M466 286v40M467 287v40M468 287v40M469 299v43M470 302v43M471 287v40M472 285v40M473 286v40M474 287v40M475 286v40M476 287v40M477 288v40M478 271v41M479 289v40M480 277v40M481 289v41M482 289v41M483 290v40M484 299v43M485 284v40M486 288v40M487 301v44M488 295v42M489 295v42M490 286v40M491 298v43M492 297v42M493 311v47M494 299v44M495 297v43M496 283v39M497 292v41M498 298v43M499 293v42M500 306v46M501 296v43M502 294v42M503 292v42M504 280v39M505 302v44M506 289v41M507 277v40M508 280v40M509 286v40M510 270v41M511 284v40M512 268v41M513 284v39M514 300v44M515 285v40M516 268v41M517 296v43M518 298v44M519 301v44M520 299v44M521 289v42M522 282v40M523 276v41M524 290v41M525 289v41M526 288v42M527 299v43M528 281v40M529 303v44M530 280v40M531 285v40M532 305v45M533 296v43M534 277v41M535 288v42M536 282v40M537 299v43M538 289v42M539 297v43M540 291v43M541 309v45M542 282v40M543 293v43M544 295v42M545 300v44M546 292v42M547 292v42M548 286v42M549 278v41M550 302v44M551 291v41M552 289v42M553 272v41M554 288v42M555 277v40M556 269v41M557 292v43M558 285v41M559 277v40M560 296v43M561 281v41M562 273v40M563 267v41M564 268v42M565 279v41M566 280v40M567 279v40M568 278v40M569 278v40M570 279v40M571 278v40M572 277v40M573 286v41M574 286v41M575 277v40M576 262v42M577 280v40M578 280v40M579 285v40M580 278v40M581 288v41M582 292v41M583 268v40M584 276v40M585 276v39M586 274v40M587 286v40M588 273v40M589 275v40M590 273v40M591 274v39M592 290v42M593 269v40M594 276v39M595 275v40M596 260v41M597 276v40M598 271v40M599 278v39M600 278v40M601 283v41M602 278v39M603 263v41M604 276v40M605 265v40M606 292v41M607 278v40M608 276v39M609 276v40M610 269v40M611 275v40M612 273v39M613 273v39M614 285v41M615 285v41M616 272v39M617 272v39M618 278v40M619 272v39M620 282v40M621 282v41M622 269v39M623 263v39M624 261v39M625 266v39M626 268v39M627 268v39M628 270v38M629 256v40M630 267v38M631 269v38M632 267v39M633 269v38M634 254v40M635 270v38M636 264v39M637 271v39M638 261v39M639 281v40M640 271v38M641 283v40M642 259v39M643 270v38M644 277v39M645 270v37M646 266v38M647 254v39M648 266v38M649 277v39M650 247v41M651 265v37M652 261v38M653 262v37M654 262v38M655 262v38M656 260v38M657 244v41M658 272v39M659 249v40M660 271v38M661 279v40M662 266v37M663 258v38M664 258v38M665 250v39M666 264v37M667 265v36M668 265v36M669 256v37M670 281v40M671 265v36M672 276v39M673 265v36M674 261v36M675 268v36M676 252v39M677 281v40M678 250v39M679 277v40M680 271v38M681 269v37M682 254v38M683 267v38M684 274v40M685 280v42M686 261v40M687 271v43M688 239v42M689 257v42M690 254v42M691 266v43M692 255v42M693 255v42M694 246v42M695 267v43M696 253v42M697 259v42M698 251v41M699 265v42M700 252v41M701 242v41M702 244v40M703 249v40M704 251v40M705 253v41M706 247v40M707 259v42M708 253v42M709 235v42M710 226v44M711 261v43M712 244v41M713 243v41M714 227v43M715 230v42M716 239v41M717 246v40M718 225v44M719 248v40M720 246v40M721 249v40M722 248v41M723 249v42M724 261v44M725 257v43M726 261v45M727 235v41M728 258v44M729 239v41M730 249v42M731 237v41M732 239v41M733 253v42M734 259v45M735 244v40M736 223v44M737 254v43M738 249v42M739 251v42M740 249v42M741 221v44M742 217v45M743 221v45M744 237v42M745 216v46M746 237v43M747 222v45M748 226v44M749 241v42M750 221v45M751 245v42M752 244v42M753 243v42M754 223v46M755 246v42M756 250v44M757 248v44M758 257v46M759 250v44M760 251v43M761 236v44M762 244v43M763 236v44M764 253v44M765 255v44M766 255v44M767 256v43M768 255v44M769 256v44M770 258v44M771 223v47M772 256v44M773 240v46M774 238v46M775 262v44M776 256v45M777 254v44M778 265v45M779 251v44M780 251v45M781 234v46M782 257v44M783 265v45M784 234v46M785 262v44M786 235v46M787 243v45M788 234v46M789 243v44M790 241v45M791 241v45M792 261v45M793 257v44M794 245v44M795 225v46M796 230v45M797 242v44M798 244v44M799 264v44M800 239v45M801 244v44M802 253v44M803 246v44M804 258v44M805 242v45M806 251v45M807 236v45M808 258v44M809 244v45M810 241v44M811 254v44M812 235v45M813 242v45M814 243v45M815 261v44M816 243v44M817 229v45M818 246v44M819 252v44M820 250v44M821 246v44M822 247v45M823 266v44M824 249v44M825 248v44M826 242v44M827 233v45M828 250v44M829 252v43M830 268v43M831 253v44M832 271v43M833 270v43M834 253v44M835 262v44M836 268v42M837 262v43M838 239v45M839 247v44M840 247v44M841 268v43M842 264v43M843 271v42M844 267v43M845 251v44M846 252v44M847 232v46M848 252v44M849 271v43M850 232v46M851 245v45M852 253v44M853 265v43M854 253v44M855 243v45M856 254v44M857 253v44M858 256v44M859 271v43M860 254v44M861 246v45M862 257v44M863 237v45M864 268v44M865 254v44M866 246v44M867 233v46M868 255v44M869 262v44M870 237v45M871 242v44M872 267v44M873 262v44M874 251v44M875 249v44M876 248v44M877 248v44M878 266v44M879 248v44M880 248v44M881 247v44M882 248v44M883 248v44M884 267v45M885 245v43M886 229v45M887 265v45M888 246v44M889 245v43M890 227v45M891 244v43M892 244v43M893 226v45M894 251v43M895 231v44M896 237v43M897 234v44M898 233v44M899 225v45M900 235v43M901 263v45M902 213v47M903 220v45M904 227v44M905 234v43M906 235v42M907 252v43M908 254v44M909 248v42M910 247v42M911 238v42M912 220v45M913 255v43M914 247v42M915 238v42M916 238v42M917 219v46M918 216v45M919 228v43M920 238v42M921 240v42M922 253v44M923 240v42M924 250v43M925 242v42M926 252v43M927 244v42M928 257v44M929 251v44M930 246v43M931 254v44M932 259v45M933 233v44M934 241v43M935 202v48M936 236v43M937 263v45M938 235v44M939 235v44M940 256v44M941 272v47M942 268v46M943 273v46M944 257v45M945 267v45M946 269v46M947 253v45M948 270v46M949 278v46M950 250v44M951 263v45M952 245v43M953 262v45M954 256v44M955 221v46M956 242v43M957 241v43M958 230v44M959 243v43M960 232v44M961 225v45M962 245v42M963 246v42M964 261v42M965 247v42M966 254v41M967 265v43M968 261v42M969 251v41M970 256v40M971 250v40M972 250v41M973 236v42M974 252v40M975 237v42M976 253v39M977 255v40M978 254v39M979 254v39M980 264v40M981 255v39M982 237v41M983 258v39"/>
<path stroke="#00FFFF" d="M179 364v43M180 364v42M181 363v43M182 367v42M183 369v42M184 362v43M185 348v42M186 360v44M187 358v44M188 376v41M189 355v44M190 366v43M191 367v43M192 376v41M193 351v44M194 359v45M195 358v45M196 360v45M197 358v45M198 358v45M199 350v44M200 344v43M201 356v46M202 369v44M203 391v38M204 370v43M205 372v42M206 352v46M207 353v46M208 366v44M209 364v45M210 364v46M211 366v44M212 344v44M213 351v46M214 363v46M215 346v45M216 361v47M217 353v47M218 346v45M219 346v44M220 354v47M221 367v45M222 354v47M223 355v47M224 354v47M225 364v46M226 353v48M227 346v44M228 354v48M229 367v45M230 353v48M231 370v44M232 363v46M233 364v46M234 345v44M235 354v48M236 340v42M237 353v47M238 353v48M239 353v47M240 353v47M241 352v46M242 339v43M243 343v44M244 341v43M245 357v47M246 340v43M247 351v47M248 359v47M249 351v47M250 337v41M251 350v47M252 351v46M253 359v46M254 351v47M255 351v47M256 351v47M257 351v47M258 347v46M259 362v46M260 353v47M261 353v47M262 368v44M263 356v47M264 357v47M265 357v47M266 349v47M267 345v45M268 347v45M269 369v44M270 361v45M271 347v46M272 361v46M273 373v42M274 359v46M275 346v45M276 351v47M277 366v44M278 345v45M279 358v46M280 356v47M281 346v46M282 356v47M283 356v46M284 368v43M285 355v47M286 356v46M287 347v46M288 342v45M289 356v46M290 357v46M291 342v45M292 355v46M293 348v46M294 357v46M295 357v45M296 340v45M297 341v44M298 355v46M299 367v43M300 353v46M301 381v40M302 363v44M303 353v46M304 344v45M305 359v45M306 343v45M307 368v43M308 335v45M309 349v46M310 350v46M311 339v45M312 358v45M313 351v46M314 332v45M315 349v46M316 337v45M317 350v46M318 349v46M319 348v46M320 347v46M321 333v44M322 346v45M323 329v44M324 343v46M325 359v44M326 362v44M327 350v46M328 344v45M329 334v45M330 342v45M331 345v45M332 345v45M333 345v46M334 347v46M335 332v44M336 357v45M337 340v45M338 367v42M339 336v44M340 352v45M341 353v45M342 340v45M343 354v45M344 343v45M345 350v46M346 352v45M347 360v44M348 348v45M349 340v44M350 348v45M351 349v45M352 356v44M353 359v43M354 359v44M355 346v44M356 347v44M357 346v44M358 364v43M359 349v45M360 348v45M361 348v45M362 351v44M363 349v44M364 361v43M365 338v43M366 368v42M367 341v43M368 358v43M369 338v43M370 352v44M371 338v43M372 350v44M373 367v41M374 353v43M375 361v42M376 361v42M377 349v43M378 350v44M379 349v44M380 351v43M381 348v43M382 364v42M383 349v43M384 364v42M385 351v43M386 353v42M387 352v42M388 341v43M389 366v41M390 343v43M391 341v43M392 353v42M393 351v43M394 362v42M395 350v43M396 348v43M397 331v42M398 348v43M399 346v44M400 360v41M401 345v43M402 345v44M403 343v44M404 349v43M405 343v44M406 344v44M407 342v44M408 367v41M409 332v44M410 345v43M411 343v44M412 345v44M413 360v42M414 328v44M415 344v44M416 327v44M417 344v44M418 343v44M419 334v44M420 355v43M421 332v45M422 341v45M423 359v42M424 348v44M425 351v44M426 343v45M427 343v45M428 354v43M429 360v42M430 344v45M431 335v46M432 332v45M433 356v43M434 324v46M435 360v42M436 339v46M437 338v47M438 354v43M439 329v46M440 338v47M441 354v44M442 326v47M443 356v44M444 330v47M445 339v47M446 353v44M447 327v47M448 337v48M449 337v48M450 330v48M451 353v44M452 337v48M453 330v49M454 336v48M455 352v44M456 332v49M457 330v49M458 330v50M459 330v50M460 341v48M461 321v48M462 348v45M463 327v49M464 320v48M465 318v48M466 326v49M467 327v49M468 327v49M469 342v47M470 345v46M471 327v50M472 325v50M473 326v49M474 327v49M475 326v50M476 327v50M477 328v50M478 312v46M479 329v50M480 317v48M481 330v49M482 330v49M483 330v50M484 342v47M485 324v50M486 328v49M487 345v45M488 337v48M489 337v48M490 326v50M491 341v46M492 339v47M493 358v42M494 343v46M495 340v47M496 322v51M497 333v49M498 341v46M499 335v48M500 352v43M501 339v46M502 336v47M503 334v47M504 319v50M505 346v45M506 330v48M507 317v48M508 320v49M509 326v49M510 311v46M511 324v49M512 309v46M513 323v49M514 344v45M515 325v49M516 309v46M517 339v45M518 342v45M519 345v45M520 343v45M521 331v47M522 322v48M523 317v47M524 331v47M525 330v47M526 330v46M527 342v45M528 321v48M529 347v44M530 320v48M531 325v48M532 350v43M533 339v45M534 318v47M535 330v46M536 322v47M537 342v45M538 331v46M539 340v44M540 334v45M541 354v43M542 322v47M543 336v45M544 337v46M545 344v44M546 334v46M547 334v45M548 328v46M549 319v46M550 346v44M551 332v46M552 331v45M553 313v45M554 330v45M555 317v46M556 310v45M557 335v45M558 326v46M559 317v46M560 339v44M561 322v46M562 313v46M563 308v45M564 310v44M565 320v46M566 320v46M567 319v46M568 318v45M569 318v45M570 319v46M571 318v46M572 317v46M573 327v45M574 327v45M575 317v45M576 304v43M577 320v46M578 320v45M579 325v45M580 318v45M581 329v45M582 333v45M583 308v44M584 316v45M585 315v45M586 314v44M587 326v45M588 313v44M589 315v44M590 313v44M591 313v44M592 332v44M593 309v44M594 315v44M595 315v44M596 301v43M597 316v44M598 311v44M599 317v44M600 318v44M601 324v44M602 317v44M603 304v43M604 316v44M605 305v43M606 333v45M607 318v44M608 315v44M609 316v44M610 309v43M611 315v44M612 312v44M613 312v44M614 326v44M615 326v44M616 311v44M617 311v44M618 318v44M619 311v44M620 322v45M621 323v44M622 308v44M623 302v43M624 300v43M625 305v43M626 307v44M627 307v44M628 308v44M629 296v42M630 305v44M631 307v44M632 306v43M633 307v44M634 294v42M635 308v44M636 303v43M637 310v44M638 300v43M639 321v45M640 309v44M641 323v45M642 298v43M643 308v44M644 316v45M645 307v45M646 304v44M647 293v43M648 304v43M649 316v44M650 288v41M651 302v44M652 299v43M653 299v44M654 300v43M655 300v43M656 298v43M657 285v40M658 311v44M659 289v41M660 309v44M661 319v44M662 303v44M663 296v43M664 296v43M665 289v42M666 301v44M667 301v44M668 301v44M669 293v43M670 321v44M671 301v44M672 315v44M673 301v44M674 297v44M675 304v44M676 291v42M677 321v44M678 289v42M679 317v44M680 309v44M681 306v44M682 292v42M683 305v44M684 314v44M685 322v45M686 301v44M687 314v44M688 281v44M689 299v44M690 296v45M691 309v44M692 297v44M693 297v44M694 288v44M695 310v44M696 295v44M697 301v44M698 292v45M699 307v45M700 293v45M701 283v44M702 284v45M703 289v45M704 291v45M705 294v45M706 287v45M707 301v46M708 295v45M709 277v45M710 270v44M711 304v45M712 285v46M713 284v46M714 270v45M715 272v45M716 280v47M717 286v48M718 269v45M719 288v48M720 286v49M721 289v49M722 289v48M723 291v48M724 305v45M725 300v47M726 306v45M727 276v48M728 302v46M729 280v49M730 291v49M731 278v49M732 280v50M733 295v49M734 304v46M735 284v52M736 267v47M737 297v48M738 291v51M739 293v50M740 291v52M741 265v48M742 262v48M743 266v50M744 279v58M745 262v49M746 280v59M747 267v54M748 270v57M749 283v66M750 266v56M751 287v72M752 286v69M753 285v66M754 269v54M755 288v63M756 294v61M757 292v59M758 303v56M759 294v56M760 294v55M761 280v51M762 287v52M763 280v49M764 297v49M765 299v47M766 299v46M767 299v46M768 299v45M769 300v45M770 302v45M771 270v45M772 300v45M773 286v44M774 284v45M775 306v44M776 301v44M777 298v45M778 310v44M779 295v45M780 296v45M781 280v45M782 301v45M783 310v44M784 280v44M785 306v45M786 281v45M787 288v45M788 280v44M789 287v45M790 286v45M791 286v44M792 306v44M793 301v45M794 289v45M795 271v45M796 275v45M797 286v45M798 288v45M799 308v45M800 284v44M801 288v45M802 297v45M803 290v45M804 302v45M805 287v45M806 296v45M807 281v45M808 302v45M809 289v44M810 285v45M811 298v44M812 280v45M813 287v44M814 288v44M815 305v44M816 287v44M817 274v44M818 290v44M819 296v44M820 294v43M821 290v43M822 292v43M823 310v42M824 293v43M825 292v43M826 286v43M827 278v43M828 294v42M829 295v43M830 311v42M831 297v42M832 314v42M833 313v41M834 297v41M835 306v41M836 310v41M837 305v41M838 284v42M839 291v41M840 291v41M841 311v40M842 307v41M843 313v40M844 310v40M845 295v41M846 296v40M847 278v42M848 296v41M849 314v40M850 278v42M851 290v41M852 297v41M853 308v41M854 297v41M855 288v42M856 298v41M857 297v42M858 300v42M859 314v41M860 298v42M861 291v42M862 301v42M863 282v43M864 312v41M865 298v43M866 290v43M867 279v43M868 299v42M869 306v42M870 282v44M871 286v44M872 311v42M873 306v42M874 295v44M875 293v44M876 292v45M877 292v45M878 310v43M879 292v45M880 292v44M881 291v45M882 292v44M883 292v45M884 312v42M885 288v46M886 274v45M887 310v42M888 290v45M889 288v46M890 272v45M891 287v46M892 287v46M893 271v45M894 294v45M895 275v45M896 280v46M897 278v46M898 277v46M899 270v45M900 278v46M901 308v42M902 260v44M903 265v45M904 271v46M905 277v47M906 277v47M907 295v45M908 298v44M909 290v46M910 289v47M911 280v47M912 265v45M913 298v44M914 289v47M915 280v47M916 280v47M917 265v44M918 261v45M919 271v46M920 280v48M921 282v47M922 297v44M923 282v47M924 293v46M925 284v48M926 295v45M927 286v47M928 301v43M929 295v45M930 289v46M931 298v44M932 304v42M933 277v47M934 284v47M935 250v43M936 279v47M937 308v41M938 279v46M939 279v47M940 300v43M941 319v37M942 314v39M943 319v37M944 302v42M945 312v40M946 315v39M947 298v43M948 316v38M949 324v36M950 294v44M951 308v40M952 288v46M953 307v41M954 300v43M955 267v44M956 285v47M957 284v46M958 274v45M959 286v46M960 276v45M961 270v44M962 287v46M963 288v46M964 303v42M965 289v45M966 295v44M967 308v40M968 303v42M969 292v45M970 296v44M971 290v45M972 291v45M973 278v44M974 292v45M975 279v44M976 292v45M977 295v44M978 293v44M979 293v45M980 304v42M981 294v44M982 278v43M983 297v43M984 116v75"/>
<path stroke="#3FFFBF" d="M179 407v35M180 406v35M181 406v35M182 409v35M183 411v35M184 405v35M185 390v38M186 404v35M187 402v36M188 417v34M189 399v36M190 409v35M191 410v35M192 417v34M193 395v37M194 404v35M195 403v35M196 405v35M197 403v35M198 403v35M199 394v37M200 387v39M201 402v35M202 413v34M203 429v33M204 413v35M205 414v35M206 398v36M207 399v36M208 410v35M209 409v35M210 410v34M211 410v35M212 388v39M213 397v37M214 409v34M215 391v38M216 408v34M217 400v36M218 391v38M219 390v38M220 401v36M221 412v34M222 401v36M223 402v36M224 401v36M225 410v34M226 401v35M227 390v39M228 402v35M229 412v34M230 401v35M231 414v34M232 409v34M233 410v34M234 389v39M235 402v35M236 382v41M237 400v36M238 401v35M239 400v36M240 400v36M241 398v37M242 382v41M243 387v40M244 384v40M245 404v35M246 383v40M247 398v36M248 406v35M249 398v36M250 378v42M251 397v36M252 397v37M253 405v35M254 398v36M255 398v36M256 398v36M257 398v36M258 393v37M259 408v34M260 400v36M261 400v36M262 412v34M263 403v35M264 404v35M265 404v35M266 396v36M267 390v38M268 392v38M269 413v34M270 406v35M271 393v37M272 407v34M273 415v34M274 405v35M275 391v37M276 398v36M277 410v34M278 390v37M279 404v35M280 403v34M281 392v37M282 403v34M283 402v35M284 411v35M285 402v35M286 402v35M287 393v37M288 387v38M289 402v35M290 403v35M291 387v38M292 401v35M293 394v37M294 403v35M295 402v36M296 385v39M297 385v39M298 401v36M299 410v35M300 399v36M301 421v34M302 407v35M303 399v37M304 389v39M305 404v35M306 388v39M307 411v35M308 380v40M309 395v37M310 396v37M311 384v40M312 403v36M313 397v37M314 377v41M315 395v37M316 382v40M317 396v37M318 395v38M319 394v38M320 393v38M321 377v41M322 391v39M323 373v42M324 389v39M325 403v37M326 406v36M327 396v37M328 389v39M329 379v40M330 387v39M331 390v38M332 390v39M333 391v38M334 393v38M335 376v42M336 402v36M337 385v39M338 409v36M339 380v40M340 397v38M341 398v38M342 385v39M343 399v37M344 388v39M345 396v37M346 397v37M347 404v36M348 393v38M349 384v40M350 393v38M351 394v38M352 400v37M353 402v37M354 403v37M355 390v39M356 391v39M357 390v39M358 407v36M359 394v38M360 393v38M361 393v38M362 395v38M363 393v38M364 404v36M365 381v40M366 410v35M367 384v40M368 401v36M369 381v40M370 396v37M371 381v40M372 394v37M373 408v36M374 396v37M375 403v36M376 403v36M377 392v38M378 394v37M379 393v37M380 394v37M381 391v38M382 406v35M383 392v38M384 406v35M385 394v37M386 395v38M387 394v37M388 384v39M389 407v35M390 386v38M391 384v39M392 395v37M393 394v37M394 404v35M395 393v38M396 391v38M397 373v40M398 391v38M399 390v38M400 401v36M401 388v38M402 389v37M403 387v38M404 392v38M405 387v38M406 388v38M407 386v38M408 408v35M409 376v40M410 388v38M411 387v38M412 389v37M413 402v35M414 372v40M415 388v38M416 371v40M417 388v38M418 387v38M419 378v39M420 398v36M421 377v39M422 386v38M423 401v35M424 392v37M425 395v36M426 388v37M427 388v37M428 397v36M429 402v35M430 389v37M431 381v38M432 377v39M433 399v36M434 370v40M435 402v35M436 385v37M437 385v37M438 397v36M439 375v39M440 385v37M441 398v35M442 373v39M443 400v35M444 377v39M445 386v37M446 397v36M447 374v40M448 385v37M449 385v37M450 378v38M451 397v36M452 385v37M453 379v38M454 384v37M455 396v36M456 381v37M457 379v38M458 380v37M459 380v37M460 389v36M461 369v40M462 393v36M463 376v38M464 368v40M465 366v41M466 375v39M467 376v38M468 376v39M469 389v36M470 391v36M471 377v38M472 375v38M473 375v38M474 376v38M475 376v38M476 377v38M477 378v38M478 358v43M479 379v37M480 365v41M481 379v38M482 379v38M483 380v37M484 389v37M485 374v38M486 377v38M487 390v37M488 385v37M489 385v37M490 376v38M491 387v37M492 386v37M493 400v36M494 389v37M495 387v37M496 373v38M497 382v37M498 387v37M499 383v37M500 395v37M501 385v38M502 383v38M503 381v38M504 369v39M505 391v37M506 378v38M507 365v41M508 369v39M509 375v39M510 357v42M511 373v39M512 355v42M513 372v39M514 389v37M515 374v39M516 355v43M517 384v38M518 387v38M519 390v37M520 388v37M521 378v38M522 370v40M523 364v41M524 378v39M525 377v39M526 376v39M527 387v37M528 369v40M529 391v37M530 368v40M531 373v39M532 393v37M533 384v38M534 365v41M535 376v40M536 369v41M537 387v38M538 377v39M539 384v39M540 379v39M541 397v37M542 369v41M543 381v39M544 383v38M545 388v38M546 380v39M547 379v40M548 374v40M549 365v42M550 390v38M551 378v40M552 376v40M553 358v43M554 375v41M555 363v42M556 355v44M557 380v39M558 372v41M559 363v43M560 383v40M561 368v42M562 359v43M563 353v43M564 354v44M565 366v42M566 366v42M567 365v43M568 363v43M569 363v43M570 365v43M571 364v43M572 363v43M573 372v42M574 372v42M575 362v44M576 347v44M577 366v43M578 365v43M579 370v43M580 363v44M581 374v42M582 378v41M583 352v44M584 361v44M585 360v44M586 358v45M587 371v42M588 357v45M589 359v44M590 357v45M591 357v45M592 376v42M593 353v44M594 359v45M595 359v44M596 344v44M597 360v44M598 355v45M599 361v44M600 362v44M601 368v43M602 361v44M603 347v44M604 360v44M605 348v45M606 378v42M607 362v44M608 359v44M609 360v44M610 352v45M611 359v44M612 356v45M613 356v45M614 370v43M615 370v43M616 355v45M617 355v45M618 362v44M619 355v45M620 367v43M621 367v43M622 352v45M623 345v46M624 343v46M625 348v46M626 351v45M627 351v45M628 352v46M629 338v46M630 349v46M631 351v46M632 349v46M633 351v46M634 336v45M635 352v45M636 346v46M637 354v45M638 343v45M639 366v43M640 353v45M641 368v42M642 341v45M643 352v45M644 361v43M645 352v44M646 348v45M647 336v44M648 347v45M649 360v44M650 329v44M651 346v45M652 342v45M653 343v44M654 343v45M655 343v45M656 341v45M657 325v45M658 355v43M659 330v45M660 353v43M661 363v42M662 347v44M663 339v44M664 339v44M665 331v44M666 345v44M667 345v44M668 345v44M669 336v44M670 365v42M671 345v44M672 359v43M673 345v44M674 341v44M675 348v44M676 333v44M677 365v42M678 331v44M679 361v42M680 353v43M681 350v43M682 334v44M683 349v44M684 358v43M685 367v42M686 345v44M687 358v44M688 325v45M689 343v45M690 341v44M691 353v44M692 341v45M693 341v44M694 332v45M695 354v44M696 339v45M697 345v45M698 337v44M699 352v44M700 338v44M701 327v45M702 329v45M703 334v45M704 336v45M705 339v44M706 332v45M707 347v43M708 340v43M709 322v44M710 314v44M711 349v42M712 331v43M713 330v43M714 315v44M715 317v44M716 327v41M717 334v41M718 314v43M719 336v40M720 335v39M721 338v39M722 337v39M723 339v39M724 350v39M725 347v38M726 351v39M727 324v41M728 348v38M729 329v39M730 340v37M731 327v39M732 330v38M733 344v36M734 350v37M735 336v35M736 314v42M737 345v36M738 342v35M739 343v36M740 343v36M741 313v46M742 310v48M743 316v48M744 337v40M745 311v53M746 339v42M747 321v51M748 327v49M749 349v40M750 322v54M751 359v35M752 355v37M753 351v39M754 323v53M755 351v40M756 355v38M757 351v39M758 359v37M759 350v39M760 349v40M761 331v45M762 339v42M763 329v45M764 346v40M765 346v40M766 345v41M767 345v40M768 344v41M769 345v41M770 347v41M771 315v44M772 345v42M773 330v43M774 329v43M775 350v42M776 345v42M777 343v42M778 354v41M779 340v42M780 341v42M781 325v43M782 346v42M783 354v41M784 324v44M785 351v41M786 326v43M787 333v43M788 324v44M789 332v44M790 331v44M791 330v44M792 350v42M793 346v42M794 334v44M795 316v44M796 320v44M797 331v44M798 333v44M799 353v42M800 328v45M801 333v45M802 342v44M803 335v44M804 347v43M805 332v45M806 341v44M807 326v45M808 347v43M809 333v45M810 330v45M811 342v44M812 325v44M813 331v45M814 332v44M815 349v42M816 331v44M817 318v44M818 334v43M819 340v43M820 337v43M821 333v44M822 335v43M823 352v41M824 336v43M825 335v42M826 329v43M827 321v42M828 336v42M829 338v41M830 353v40M831 339v41M832 356v39M833 354v40M834 338v41M835 347v40M836 351v40M837 346v40M838 326v41M839 332v41M840 332v40M841 351v39M842 348v39M843 353v39M844 350v39M845 336v40M846 336v40M847 320v40M848 337v40M849 354v39M850 320v40M851 331v40M852 338v40M853 349v39M854 338v40M855 330v40M856 339v40M857 339v40M858 342v39M859 355v38M860 340v40M861 333v40M862 343v39M863 325v41M864 353v39M865 341v39M866 333v40M867 322v41M868 341v40M869 348v40M870 326v40M871 330v40M872 353v39M873 348v40M874 339v40M875 337v40M876 337v39M877 337v40M878 353v39M879 337v39M880 336v40M881 336v40M882 336v40M883 337v39M884 354v39M885 334v39M886 319v41M887 352v39M888 335v39M889 334v39M890 317v41M891 333v39M892 333v39M893 316v41M894 339v39M895 320v41M896 326v39M897 324v40M898 323v40M899 315v41M900 324v40M901 350v38M902 304v43M903 310v42M904 317v40M905 324v39M906 324v39M907 340v38M908 342v38M909 336v38M910 336v37M911 327v38M912 310v42M913 342v38M914 336v37M915 327v38M916 327v38M917 309v42M918 306v42M919 317v40M920 328v37M921 329v37M922 341v36M923 329v37M924 339v36M925 332v35M926 340v36M927 333v36M928 344v36M929 340v35M930 335v35M931 342v35M932 346v35M933 324v37M934 331v35M935 293v45M936 326v36M937 349v35M938 325v36M939 326v36M940 343v35M941 356v35M942 353v35M943 356v35M944 344v34M945 352v34M946 354v34M947 341v34M948 354v34M949 360v34M950 338v34M951 348v34M952 334v33M953 348v33M954 343v33M955 311v40M956 332v33M957 330v34M958 319v37M959 332v33M960 321v37M961 314v38M962 333v33M963 334v32M964 345v33M965 334v33M966 339v33M967 348v34M968 345v33M969 337v33M970 340v33M971 335v33M972 336v32M973 322v36M974 337v32M975 323v36M976 337v32M977 339v32M978 337v33M979 338v32M980 346v32M981 338v32M982 321v36M983 340v33M984 191v61"/>
<path stroke="#7FFF7F" d="M179 442v33M180 441v33M181 441v33M182 444v33M183 446v33M184 440v33M185 428v33M186 439v33M187 438v33M188 451v33M189 435v33M190 444v32M191 445v32M192 451v33M193 432v33M194 439v33M195 438v33M196 440v32M197 438v33M198 438v33M199 431v33M200 426v33M201 437v33M202 447v33M203 462v33M204 448v32M205 449v32M206 434v33M207 435v33M208 445v32M209 444v32M210 444v32M211 445v32M212 427v33M213 434v32M214 443v33M215 429v33M216 442v32M217 436v32M218 429v33M219 428v33M220 437v31M221 446v32M222 437v31M223 438v31M224 437v31M225 444v32M226 436v32M227 429v32M228 437v31M229 446v32M230 436v32M231 448v32M232 443v32M233 444v32M234 428v32M235 437v31M236 423v32M237 436v31M238 436v31M239 436v31M240 436v31M241 435v31M242 423v32M243 427v31M244 424v32M245 439v30M246 423v32M247 434v31M248 441v30M249 434v31M250 420v33M251 433v31M252 434v30M253 440v31M254 434v31M255 434v31M256 434v31M257 434v31M258 430v32M259 442v32M260 436v31M261 436v31M262 446v32M263 438v31M264 439v31M265 439v31M266 432v32M267 428v33M268 430v32M269 447v33M270 441v32M271 430v33M272 441v33M273 449v33M274 440v32M275 428v33M276 434v32M277 444v34M278 427v34M279 439v33M280 437v33M281 429v33M282 437v33M283 437v33M284 446v33M285 437v33M286 437v34M287 430v33M288 425v34M289 437v34M290 438v33M291 425v34M292 436v33M293 431v33M294 438v33M295 438v33M296 424v33M297 424v34M298 437v32M299 445v33M300 435v33M301 455v34M302 442v33M303 436v32M304 428v33M305 439v33M306 427v33M307 446v33M308 420v34M309 432v33M310 433v33M311 424v33M312 439v33M313 434v33M314 418v34M315 432v33M316 422v34M317 433v32M318 433v32M319 432v32M320 431v32M321 418v35M322 430v32M323 415v34M324 428v33M325 440v32M326 442v32M327 433v32M328 428v33M329 419v35M330 426v33M331 428v33M332 429v32M333 429v33M334 431v32M335 418v34M336 438v33M337 424v34M338 445v33M339 420v34M340 435v32M341 436v32M342 424v34M343 436v32M344 427v33M345 433v32M346 434v33M347 440v33M348 431v33M349 424v33M350 431v32M351 432v32M352 437v33M353 439v33M354 440v32M355 429v33M356 430v32M357 429v33M358 443v32M359 432v32M360 431v32M361 431v32M362 433v32M363 431v32M364 440v33M365 421v34M366 445v33M367 424v33M368 437v33M369 421v33M370 433v32M371 421v33M372 431v32M373 444v32M374 433v32M375 439v32M376 439v32M377 430v32M378 431v32M379 430v32M380 431v32M381 429v32M382 441v32M383 430v32M384 441v32M385 431v32M386 433v32M387 431v32M388 423v32M389 442v32M390 424v33M391 423v32M392 432v32M393 431v32M394 439v32M395 431v32M396 429v32M397 413v34M398 429v32M399 428v32M400 437v32M401 426v33M402 426v33M403 425v32M404 430v32M405 425v32M406 426v32M407 424v32M408 443v32M409 416v33M410 426v32M411 425v32M412 426v33M413 437v33M414 412v34M415 426v32M416 411v34M417 426v32M418 425v32M419 417v33M420 434v32M421 416v33M422 424v32M423 436v33M424 429v32M425 431v32M426 425v32M427 425v32M428 433v32M429 437v32M430 426v32M431 419v33M432 416v33M433 435v32M434 410v34M435 437v33M436 422v33M437 422v33M438 433v32M439 414v34M440 422v33M441 433v33M442 412v34M443 435v32M444 416v33M445 423v33M446 433v32M447 414v33M448 422v33M449 422v33M450 416v34M451 433v32M452 422v33M453 417v33M454 421v33M455 432v33M456 418v33M457 417v33M458 417v33M459 417v34M460 425v33M461 409v34M462 429v33M463 414v34M464 408v35M465 407v34M466 414v34M467 414v34M468 415v34M469 425v34M470 427v34M471 415v34M472 413v34M473 413v35M474 414v35M475 414v34M476 415v34M477 416v34M478 401v35M479 416v35M480 406v35M481 417v34M482 417v34M483 417v35M484 426v34M485 412v35M486 415v35M487 427v35M488 422v35M489 422v35M490 414v35M491 424v36M492 423v36M493 436v36M494 426v35M495 424v35M496 411v35M497 419v36M498 424v36M499 420v36M500 432v36M501 423v36M502 421v36M503 419v36M504 408v35M505 428v37M506 416v36M507 406v35M508 408v35M509 414v35M510 399v37M511 412v35M512 397v37M513 411v36M514 426v37M515 413v35M516 398v36M517 422v37M518 425v37M519 427v38M520 425v38M521 416v37M522 410v35M523 405v35M524 417v36M525 416v36M526 415v37M527 424v39M528 409v35M529 428v39M530 408v35M531 412v36M532 430v40M532 760v4M533 422v39M534 406v35M535 416v36M536 410v35M537 425v38M538 416v37M539 423v38M540 418v38M541 434v40M541 751v13M542 410v35M543 420v38M544 421v38M545 426v39M546 419v37M547 419v37M548 414v37M549 407v35M550 428v39M550 763v1M551 418v37M552 416v37M553 401v36M554 416v36M555 405v36M556 399v36M557 419v38M558 413v36M559 406v35M560 423v38M561 410v35M562 402v36M563 396v37M564 398v37M565 408v36M566 408v36M567 408v35M568 406v36M569 406v36M570 408v36M571 407v36M572 406v36M573 414v37M574 414v37M575 406v36M576 391v39M577 409v36M578 408v37M579 413v37M580 407v36M581 416v38M582 419v38M582 762v2M583 396v38M584 405v37M585 404v37M586 403v37M587 413v38M588 402v37M589 403v38M590 402v37M591 402v38M592 418v38M592 760v4M593 397v39M594 404v37M595 403v38M596 388v40M597 404v38M598 400v38M599 405v39M600 406v38M601 411v39M602 405v39M603 391v40M604 404v38M605 393v39M606 420v39M606 751v13M607 406v38M608 403v39M609 404v38M610 397v39M611 403v39M612 401v38M613 401v38M614 413v39M614 758v6M615 413v39M615 757v7M616 400v38M617 400v38M618 406v38M619 400v38M620 410v39M620 759v5M621 410v39M621 758v6M622 397v38M623 391v39M624 389v39M625 394v38M626 396v39M627 396v39M628 398v38M629 384v40M630 395v38M631 397v38M632 395v39M633 397v38M634 381v41M635 397v39M636 392v39M637 399v38M638 388v40M639 409v39M639 749v15M640 398v39M641 410v39M641 745v19M642 386v40M643 397v39M643 763v1M644 404v39M644 751v13M645 396v39M645 763v1M646 393v39M647 380v41M648 392v39M649 404v38M649 746v18M650 373v42M651 391v39M652 387v40M653 387v40M654 388v40M655 388v40M656 386v40M657 370v42M658 398v39M658 753v11M659 375v41M660 396v40M660 756v8M661 405v39M661 740v24M662 391v39M663 383v41M664 383v40M665 375v41M666 389v40M667 389v40M668 389v40M669 380v41M670 407v39M670 739v25M671 389v40M672 402v39M672 749v15M673 389v40M674 385v40M675 392v40M676 377v41M677 407v38M677 741v23M678 375v41M679 403v39M679 749v15M680 396v39M680 762v2M681 393v40M682 378v41M683 393v39M684 401v40M684 750v14M685 409v40M685 736v28M686 389v42M687 402v42M687 743v21M688 370v42M689 388v42M690 385v42M691 397v42M691 751v13M692 386v42M693 385v42M694 377v42M695 398v42M695 751v13M696 384v42M697 390v41M698 381v42M699 396v42M699 756v8M700 382v42M701 372v42M702 374v42M703 379v42M704 381v42M705 383v42M706 377v41M707 390v41M708 383v42M709 366v42M710 358v42M711 391v42M712 374v41M713 373v41M714 359v41M715 361v41M716 368v42M717 375v41M718 357v41M719 376v42M720 374v42M721 377v41M722 376v41M723 378v41M724 389v42M725 385v42M726 390v41M727 365v40M728 386v42M729 368v40M730 377v41M731 366v40M732 368v40M733 380v41M734 387v41M735 371v41M736 356v38M737 381v41M738 377v40M739 379v40M740 379v39M741 359v37M742 358v37M743 364v36M744 377v36M745 364v35M746 381v35M747 372v34M748 376v34M749 389v32M750 376v33M751 394v31M752 392v32M753 390v33M754 376v33M755 391v33M756 393v33M757 390v34M758 396v34M759 389v35M760 389v35M761 376v36M762 381v36M763 374v37M764 386v38M765 386v38M766 386v38M767 385v39M768 385v38M769 386v38M770 388v38M771 359v40M772 387v38M773 373v39M774 372v39M775 392v37M776 387v38M777 385v38M778 395v37M779 382v38M780 383v38M781 368v40M782 388v37M783 395v37M784 368v39M785 392v38M786 369v40M787 376v38M788 368v40M789 376v38M790 375v38M791 374v39M792 392v37M793 388v38M794 378v38M795 360v41M796 364v40M797 375v39M798 377v38M799 395v36M800 373v38M801 378v37M802 386v37M803 379v38M804 390v36M805 377v37M806 385v36M807 371v39M808 390v37M809 378v38M810 375v38M811 386v37M812 369v39M813 376v37M814 376v38M815 391v36M816 375v38M817 362v40M818 377v38M819 383v36M820 380v37M821 377v37M822 378v37M823 393v36M824 379v37M825 377v37M826 372v37M827 363v39M828 378v37M829 379v37M830 393v36M831 380v37M832 395v36M833 394v36M834 379v37M835 387v36M836 391v36M837 386v37M838 367v38M839 373v37M840 372v38M841 390v37M842 387v36M843 392v36M844 389v36M845 376v37M846 376v37M847 360v38M848 377v37M849 393v36M850 360v39M851 371v38M852 378v37M853 388v36M854 378v37M855 370v38M856 379v37M857 379v37M858 381v37M859 393v36M860 380v37M861 373v38M862 382v37M863 366v38M864 392v36M865 380v37M866 373v38M867 363v38M868 381v37M869 388v36M870 366v38M871 370v38M872 392v36M873 388v36M874 379v37M875 377v38M876 376v38M877 377v37M878 392v36M879 376v38M880 376v38M881 376v37M882 376v38M883 376v38M884 393v35M885 373v38M886 360v39M887 391v36M888 374v38M889 373v38M890 358v39M891 372v38M892 372v37M893 357v39M894 378v37M895 361v38M896 365v39M897 364v38M898 363v38M899 356v39M900 364v38M901 388v36M902 347v38M903 352v38M904 357v38M905 363v38M906 363v38M907 378v37M908 380v37M909 374v37M910 373v38M911 365v38M912 352v38M913 380v37M914 373v37M915 365v38M916 365v37M917 351v37M918 348v37M919 357v37M920 365v37M921 366v37M922 377v38M923 366v37M924 375v37M925 367v38M926 376v37M927 369v37M928 380v37M929 375v37M930 370v37M931 377v37M932 381v38M933 361v36M934 366v36M935 338v35M936 362v36M937 384v38M938 361v36M939 362v35M940 378v37M941 391v39M942 388v39M943 391v39M944 378v38M945 386v39M946 388v39M947 375v37M948 388v40M949 394v41M950 372v36M951 382v38M952 367v36M953 381v38M954 376v37M955 351v34M956 365v35M957 364v35M958 356v34M959 365v35M960 358v34M961 352v34M962 366v35M963 366v35M964 378v37M965 367v35M966 372v36M967 382v37M968 378v36M969 370v35M970 373v36M971 368v35M972 368v35M973 358v34M974 369v36M975 359v34M976 369v35M977 371v36M978 370v35M979 370v35M980 378v37M981 370v35M982 357v34M983 373v35M984 252v56M991 116v43M992 116v27M993 116v68"/>
<path stroke="#BFFF3F" d="M179 475v36M180 474v36M181 474v35M182 477v39M183 479v39M184 473v35M185 461v35M186 472v35M187 471v34M188 484v45M189 468v34M190 476v39M191 477v40M192 484v45M193 465v34M194 472v35M195 471v34M196 472v36M197 471v35M198 471v34M199 464v34M200 459v34M201 470v34M202 480v41M203 495v57M203 763v1M204 480v43M205 481v44M206 467v34M207 468v34M208 477v40M209 476v40M210 476v40M211 477v41M212 460v33M213 466v34M214 476v39M215 462v33M216 474v39M217 468v34M218 462v34M219 461v34M220 468v35M221 478v43M222 468v35M223 469v35M224 468v35M225 476v40M226 468v34M227 461v34M228 468v35M229 478v42M230 468v34M231 480v44M232 475v40M233 476v41M234 460v34M235 468v35M236 455v34M237 467v35M238 467v35M239 467v35M240 467v35M241 466v35M242 455v34M243 458v35M244 456v34M245 469v37M246 455v34M247 465v35M248 471v39M249 465v35M250 453v33M251 464v36M252 464v36M253 471v38M254 465v36M255 465v36M256 465v36M257 465v36M258 462v35M259 474v40M260 467v36M261 467v36M262 478v44M263 469v37M264 470v38M265 470v38M266 464v36M267 461v35M268 462v35M269 480v45M270 473v40M271 463v35M272 474v40M273 482v47M274 472v40M275 461v35M276 466v36M277 478v43M278 461v35M279 472v39M280 470v38M281 462v35M282 470v38M283 470v38M284 479v45M285 470v37M286 471v37M287 463v36M288 459v35M289 471v37M290 471v38M291 459v35M292 469v37M293 464v35M294 471v38M295 471v37M296 457v35M297 458v34M298 469v37M299 478v44M300 468v35M301 489v55M302 475v42M303 468v36M304 461v34M305 472v39M306 460v34M307 479v46M308 454v34M309 465v34M310 466v34M311 457v34M312 472v38M313 467v34M314 452v34M315 465v34M316 456v33M317 465v34M318 465v34M319 464v34M320 463v34M321 453v33M322 462v34M323 449v34M324 461v33M325 472v39M326 474v42M327 465v34M328 461v33M329 454v33M330 459v34M331 461v34M332 461v34M333 462v34M334 463v34M335 452v33M336 471v39M337 458v33M338 478v47M339 454v34M340 467v35M341 468v36M342 458v33M343 468v38M344 460v33M345 465v34M346 467v35M347 473v40M348 464v33M349 457v34M350 463v34M351 464v34M352 470v36M353 472v37M354 472v38M355 462v33M356 462v34M357 462v33M358 475v39M359 464v34M360 463v34M361 463v34M362 465v34M363 463v34M364 473v38M365 455v33M366 478v41M367 457v33M368 470v37M369 454v33M370 465v35M371 454v33M372 463v35M373 476v41M374 465v35M375 471v39M376 471v39M377 462v34M378 463v35M379 462v34M380 463v35M381 461v33M382 473v41M383 462v33M384 473v41M385 463v34M386 465v34M387 463v35M388 455v32M389 474v42M390 457v32M391 455v33M392 464v35M393 463v35M394 471v40M395 463v34M396 461v33M397 447v33M398 461v33M399 460v33M400 469v40M401 459v32M402 459v32M403 457v33M404 462v35M405 457v33M406 458v33M407 456v33M408 475v44M409 449v33M410 458v34M411 457v33M412 459v33M413 470v41M414 446v33M415 458v34M416 445v33M417 458v34M418 457v34M419 450v33M420 466v39M421 449v33M422 456v34M423 469v41M424 461v37M425 463v39M426 457v35M427 457v35M428 465v40M429 469v43M430 458v36M431 452v33M432 449v33M433 467v41M434 444v33M435 470v42M436 455v33M437 455v33M438 465v41M438 760v4M439 448v32M440 455v33M441 466v40M441 751v13M442 446v33M443 467v42M443 746v18M444 449v32M445 456v34M445 761v3M446 465v41M446 746v18M447 447v32M448 455v33M448 758v6M449 455v33M449 758v6M450 450v32M451 465v41M451 744v20M452 455v34M452 756v8M453 450v32M454 454v34M454 756v8M455 465v40M455 745v19M456 451v33M456 759v5M457 450v32M457 761v3M458 450v33M458 760v4M459 451v32M459 760v4M460 458v36M460 751v13M461 443v33M462 462v41M462 744v20M463 448v33M463 763v1M464 443v33M465 441v33M466 448v33M466 763v1M467 448v33M467 762v2M468 449v33M468 761v3M469 459v39M469 750v14M470 461v40M470 748v16M471 449v33M471 759v5M472 447v34M472 760v4M473 448v34M473 760v4M474 449v34M474 758v6M475 448v34M475 758v6M476 449v34M476 757v7M477 450v35M477 756v8M478 436v35M479 451v36M479 754v10M480 441v35M481 451v37M481 753v11M482 451v37M482 753v11M483 452v37M483 752v12M484 460v44M484 746v18M485 447v36M485 756v8M486 450v37M486 753v11M487 462v45M487 743v21M488 457v42M488 747v17M489 457v42M489 747v17M490 449v37M490 753v11M491 460v44M491 744v20M492 459v44M492 745v19M493 472v53M493 735v29M494 461v47M494 743v21M495 459v46M495 744v20M496 446v38M496 753v11M497 455v42M497 746v18M498 460v47M498 742v22M499 456v44M499 745v19M500 468v52M500 737v27M501 459v46M501 743v21M502 457v45M502 731v33M503 455v44M503 712v52M504 443v39M504 728v36M505 465v50M505 702v62M506 452v42M506 716v48M507 441v39M507 733v31M508 443v40M508 727v37M509 449v42M509 718v46M510 436v38M510 744v20M511 447v41M511 720v44M512 434v38M512 748v16M513 447v41M513 721v43M514 463v52M514 703v61M515 448v42M515 719v45M516 434v39M516 746v18M517 459v50M517 701v63M518 462v52M518 697v67M519 465v54M519 693v71M520 463v53M520 696v68M521 453v46M521 711v53M522 445v42M522 722v42M523 440v42M523 731v33M524 453v48M524 712v52M525 452v48M525 714v50M526 452v47M526 715v49M527 463v55M527 705v59M528 444v43M528 722v42M529 467v59M529 701v63M530 443v43M530 723v41M531 448v46M531 718v46M532 470v60M532 699v61M533 461v54M533 707v57M534 441v43M534 727v37M535 452v49M535 712v52M536 445v44M536 720v44M537 463v57M537 697v67M538 453v50M538 710v54M539 461v56M539 699v65M540 456v52M540 706v58M541 474v92M541 682v69M542 445v45M542 719v45M543 458v54M543 703v61M544 459v56M544 701v63M545 465v60M545 694v70M546 456v54M546 705v59M547 456v53M547 705v59M548 451v49M548 712v52M549 442v43M549 723v41M550 467v63M550 690v73M551 455v53M551 707v57M552 453v52M552 709v55M553 437v42M553 729v35M554 452v52M554 710v54M555 441v42M555 721v43M556 435v41M556 733v31M557 457v56M557 706v58M558 449v50M558 712v52M559 441v43M559 721v43M560 461v60M560 702v62M561 445v46M561 715v49M562 438v42M562 726v38M563 433v41M563 735v29M564 435v41M564 732v32M565 444v44M565 717v47M566 444v45M566 716v48M567 443v44M567 717v47M568 442v43M568 718v46M569 442v43M569 718v46M570 444v44M570 716v48M571 443v43M571 717v47M572 442v43M572 717v47M573 451v49M573 710v54M574 451v49M574 710v54M575 442v43M575 717v47M576 430v40M576 738v26M577 445v45M577 714v50M578 445v44M578 715v49M579 450v48M579 710v54M580 443v43M580 716v48M581 454v50M581 707v57M582 457v53M582 704v58M583 434v41M583 729v35M584 442v42M584 717v47M585 441v42M585 717v47M586 440v41M586 718v46M587 451v49M587 708v56M588 439v41M588 720v44M589 441v42M589 717v47M590 439v41M590 719v45M591 440v40M591 718v46M592 456v51M592 703v57M593 436v40M593 724v40M594 441v42M594 716v48M595 441v41M595 716v48M596 428v40M596 736v28M597 442v42M597 715v49M598 438v40M598 720v44M599 444v42M599 714v50M600 444v43M600 713v51M601 450v46M601 708v56M602 444v43M602 713v51M603 431v40M603 729v35M604 442v43M604 714v50M605 432v40M605 727v37M606 459v51M606 700v51M607 444v43M607 712v52M608 442v42M608 714v50M609 442v43M609 713v51M610 436v40M610 720v44M611 442v42M611 714v50M612 439v41M612 716v48M613 439v41M613 716v48M614 452v47M614 704v54M615 452v47M615 704v53M616 438v41M616 716v48M617 438v41M617 716v48M618 444v44M618 710v54M619 438v41M619 716v48M620 449v45M620 706v53M621 449v46M621 706v52M622 435v41M622 718v46M623 430v40M623 725v39M624 428v40M624 727v37M625 432v40M625 721v43M626 435v40M626 718v46M627 435v40M627 718v46M628 436v40M628 716v48M629 424v40M629 731v33M630 433v40M630 719v45M631 435v40M631 717v47M632 434v40M632 718v46M633 435v40M633 716v48M634 422v39M634 732v32M635 436v40M635 715v49M636 431v39M636 720v44M637 437v42M637 713v51M638 428v39M638 722v42M639 448v45M639 703v46M640 437v41M640 712v52M641 449v46M641 701v44M642 426v39M642 722v42M643 436v41M643 712v51M644 443v44M644 705v46M645 435v41M645 712v51M646 432v40M646 715v49M647 421v39M647 725v39M648 431v40M648 715v49M649 442v44M649 704v42M650 415v39M650 729v35M651 430v39M651 715v49M652 427v39M652 717v47M653 427v39M653 717v47M654 428v38M654 716v48M655 428v38M655 716v48M656 426v38M656 718v46M657 412v38M657 731v33M658 437v42M658 706v47M659 416v39M659 726v38M660 436v41M660 707v49M661 444v45M661 698v42M662 430v40M662 711v53M663 424v38M663 718v46M664 423v39M664 718v46M665 416v39M665 725v39M666 429v38M666 712v52M667 429v39M667 711v53M668 429v39M668 711v53M669 421v38M669 720v44M670 446v46M670 694v45M671 429v39M671 711v53M672 441v43M672 700v49M673 429v38M673 711v53M674 425v38M674 715v49M675 432v39M675 708v56M676 418v38M676 723v41M677 445v46M677 695v46M678 416v38M678 725v39M679 442v44M679 699v50M680 435v41M680 705v57M681 433v40M681 707v57M682 419v38M682 722v42M683 432v41M683 707v57M684 441v45M684 699v51M685 449v49M685 691v45M686 431v43M686 706v58M687 444v48M687 695v48M688 412v43M688 722v42M689 430v46M689 706v58M690 427v45M690 708v56M691 439v48M691 698v53M692 428v45M692 708v56M693 427v45M693 708v56M694 419v43M694 715v49M695 440v48M695 698v53M696 426v44M696 709v55M697 431v46M697 705v59M698 423v43M698 712v52M699 438v47M699 700v56M700 424v43M700 711v53M701 414v42M701 721v43M702 416v41M702 719v45M703 421v42M703 714v50M704 423v42M704 712v52M705 425v43M705 710v54M706 418v42M706 715v49M707 431v46M707 704v60M708 425v44M708 709v55M709 408v41M709 728v36M710 400v42M710 739v25M711 433v47M711 702v62M712 415v42M712 716v48M713 414v42M713 717v47M714 400v42M714 736v28M715 402v42M715 733v31M716 410v42M716 722v42M717 416v43M717 713v51M718 398v42M718 737v27M719 418v42M719 711v53M720 416v42M720 713v51M721 418v44M721 710v54M722 417v44M722 711v53M723 419v44M723 709v55M724 431v48M724 699v65M725 427v47M725 702v62M726 431v49M726 698v66M727 405v42M727 723v41M728 428v47M728 701v63M729 408v42M729 719v45M730 418v45M730 708v56M731 406v42M731 723v37M732 408v42M732 720v38M733 421v46M733 705v59M734 428v49M734 698v66M735 412v42M735 714v35M736 394v42M737 422v47M737 703v52M738 417v45M738 707v38M739 419v45M739 706v38M740 418v44M740 708v32M741 396v40M742 395v39M743 400v38M744 413v40M745 399v37M746 416v38M747 406v37M748 410v37M749 421v39M750 409v35M751 425v39M751 718v12M752 424v39M752 720v9M753 423v38M754 409v35M755 424v39M755 725v2M756 426v41M756 713v17M757 424v40M758 430v46M758 706v27M759 424v41M760 424v41M761 412v38M762 417v38M763 411v37M764 424v41M765 424v43M766 424v43M767 424v42M768 423v42M769 424v42M770 426v42M771 399v38M772 425v39M772 703v33M773 412v37M774 411v37M775 429v42M775 692v50M776 425v39M777 423v38M778 432v43M779 420v37M780 421v37M781 408v37M782 425v39M783 432v43M784 407v37M785 430v41M786 409v36M787 414v37M788 408v36M789 414v36M790 413v36M791 413v36M792 429v41M793 426v39M794 416v36M795 401v36M796 404v37M797 414v35M798 415v36M799 431v42M800 411v36M801 415v36M802 423v37M803 417v35M804 426v39M805 414v36M806 421v37M807 410v35M808 427v39M809 416v35M810 413v35M811 423v37M812 408v36M813 413v36M814 414v35M815 427v40M816 413v35M817 402v36M818 415v35M819 419v37M820 417v36M821 414v35M822 415v35M823 429v41M824 416v35M825 414v35M826 409v36M827 402v36M828 415v35M829 416v36M830 429v38M831 417v35M832 431v36M833 430v35M834 416v35M835 423v35M836 427v35M837 423v35M838 405v35M839 410v35M840 410v35M841 427v35M842 423v35M843 428v35M844 425v35M845 413v35M846 413v35M847 398v36M848 414v35M849 429v35M850 399v35M851 409v35M852 415v34M853 424v35M854 415v35M855 408v35M856 416v35M857 416v34M858 418v35M859 429v35M860 417v35M861 411v34M862 419v35M863 404v35M864 428v35M865 417v35M866 411v34M867 401v36M868 418v35M869 424v35M870 404v35M871 408v35M872 428v35M873 424v35M874 416v34M875 415v34M876 414v34M877 414v34M878 428v35M879 414v34M880 414v34M881 413v35M882 414v34M883 414v34M884 428v36M885 411v34M886 399v35M887 427v35M888 412v34M889 411v34M890 397v35M891 410v34M892 409v35M893 396v35M894 415v34M895 399v35M896 404v34M897 402v35M898 401v34M899 395v35M900 402v35M901 424v36M902 385v37M903 390v36M904 395v36M905 401v34M906 401v35M907 415v35M908 417v34M909 411v35M910 411v34M911 403v34M912 390v36M913 417v34M914 410v35M915 403v34M916 402v35M917 388v36M918 385v37M919 394v36M920 402v36M921 403v36M922 415v36M923 403v36M924 412v36M925 405v36M926 413v36M927 406v36M928 417v37M929 412v37M930 407v38M931 414v38M932 419v37M933 397v38M934 402v39M935 373v37M936 398v39M937 422v37M938 397v39M939 397v39M940 415v39M941 430v37M942 427v37M943 430v37M944 416v39M945 425v38M946 427v38M947 412v40M948 428v37M949 435v36M950 408v41M951 420v39M952 403v41M953 419v39M954 413v40M955 385v38M956 400v41M957 399v41M958 390v39M959 400v41M960 392v39M961 386v39M962 401v40M963 401v41M964 415v39M965 402v40M966 408v40M967 419v39M968 414v39M969 405v39M970 409v39M971 403v39M972 403v40M973 392v38M974 405v39M975 393v38M976 404v39M977 407v38M978 405v39M979 405v39M980 415v38M981 405v39M982 391v38M983 408v38M984 308v53M986 116v4M987 116v22M991 159v68M992 143v73M993 184v61M995 116v49M996 116v26M997 116v50M998 116v56M999 116v33M1000 116v22M1001 116v52M1002 116v50M1003 116v13M1004 116v2M1008 116v6"/>
<path stroke="#FFFF00" d="M179 511v61M179 711v53M180 510v62M180 718v46M181 509v62M181 735v29M182 516v60M182 727v37M183 518v61M183 734v30M184 508v63M184 751v13M185 496v53M185 762v2M186 507v63M186 752v12M187 505v62M187 753v11M188 529v102M188 698v66M189 502v60M189 755v9M190 515v61M190 749v15M191 517v61M191 748v16M192 529v106M192 697v67M193 499v58M193 758v6M194 507v63M194 752v12M195 505v63M195 753v11M196 508v63M196 752v12M197 506v63M197 753v11M198 505v64M198 753v11M199 498v58M199 758v6M200 493v54M201 504v64M201 754v10M202 521v84M202 712v52M203 552v211M204 523v90M204 708v56M205 525v96M205 704v60M206 501v61M206 756v8M207 502v63M207 755v9M208 517v63M208 719v45M209 516v63M209 736v28M210 516v63M210 732v32M211 518v62M211 718v46M212 493v56M213 500v62M213 757v7M214 515v63M214 750v14M215 495v58M215 762v2M216 513v63M216 751v13M217 502v64M217 756v8M218 496v58M218 762v2M219 495v57M219 763v1M220 503v64M220 757v7M221 521v86M221 713v51M222 503v65M222 757v7M223 504v65M223 757v7M224 503v65M224 758v6M225 516v63M225 750v14M226 502v65M226 759v5M227 495v58M228 503v65M228 758v6M229 520v85M229 715v49M230 502v65M230 759v5M231 524v97M231 707v57M232 515v63M232 755v9M233 517v62M233 751v13M234 494v57M235 503v65M235 758v6M236 489v53M237 502v64M237 759v5M238 502v65M238 759v5M239 502v64M239 759v5M240 502v64M240 759v5M241 501v63M241 760v4M242 489v53M243 493v56M244 490v54M245 506v66M245 757v7M246 489v54M247 500v63M247 760v4M248 510v64M248 756v8M249 500v63M249 760v4M250 486v51M251 500v62M251 760v4M252 500v62M252 760v4M253 509v65M253 756v8M254 501v63M254 760v4M255 501v63M255 760v4M256 501v63M256 760v4M257 501v63M257 760v4M258 497v60M258 762v2M259 514v63M259 755v9M260 503v64M260 759v5M261 503v64M261 758v6M262 522v92M262 710v54M263 506v65M263 757v7M264 508v64M264 757v7M265 508v64M265 756v8M266 500v61M266 760v4M267 496v58M267 763v1M268 497v60M268 762v2M269 525v100M269 704v60M270 513v63M270 755v9M271 498v60M271 761v3M272 514v63M272 755v9M273 529v115M273 694v70M274 512v62M274 755v9M275 496v59M275 762v2M276 502v63M276 759v5M277 521v88M277 713v51M278 496v58M278 763v1M279 511v63M279 756v8M280 508v63M280 757v7M281 497v60M281 761v3M282 508v63M282 756v8M283 508v63M283 757v7M284 524v98M284 701v63M285 507v63M285 755v9M286 508v64M286 751v13M287 499v60M287 757v7M288 494v57M288 762v2M289 508v64M289 699v65M290 509v64M290 698v66M291 494v57M291 762v2M292 506v65M292 702v62M293 499v62M293 755v9M294 509v64M294 698v66M295 508v65M295 698v66M296 492v57M296 763v1M297 492v58M297 763v1M298 506v65M298 700v64M299 522v96M299 688v76M300 503v66M300 751v13M301 544v220M302 517v63M302 692v72M303 504v66M303 750v14M304 495v61M304 759v5M305 511v65M305 696v68M306 494v61M306 759v5M307 525v104M307 687v77M308 488v55M309 499v65M309 754v10M310 500v66M310 753v11M311 491v58M311 763v1M312 510v66M312 696v68M313 501v67M313 752v12M314 486v53M315 499v66M315 754v10M316 489v57M317 499v67M317 753v11M318 499v67M318 753v11M319 498v67M319 754v10M320 497v66M320 755v9M321 486v54M322 496v65M322 756v8M323 483v51M324 494v64M324 758v6M325 511v68M325 695v69M326 516v66M326 692v72M327 499v70M327 752v12M328 494v65M328 758v6M329 487v57M330 493v63M330 759v5M331 495v66M331 757v7M332 495v67M332 757v7M333 496v67M333 756v8M334 497v69M334 755v9M335 485v56M336 510v69M336 751v13M337 491v64M337 761v3M338 525v89M338 701v63M339 488v60M340 502v73M340 753v11M341 504v72M341 752v12M342 491v64M342 761v3M343 506v72M343 752v12M344 493v68M344 758v6M345 499v73M345 754v10M346 502v67M346 753v11M347 513v63M347 717v47M348 497v59M348 755v9M349 491v52M349 760v4M350 497v53M350 755v9M351 498v52M351 754v10M352 506v52M352 751v13M353 509v51M353 720v44M354 510v50M354 718v46M355 495v50M355 756v8M356 496v50M356 755v9M357 495v50M357 755v9M358 514v51M358 710v54M359 498v51M359 754v10M360 497v51M360 754v10M361 497v51M361 754v10M362 499v52M362 753v11M363 497v51M363 754v10M364 511v51M364 718v46M365 488v47M365 762v2M366 519v86M366 707v57M367 490v48M367 758v6M368 507v51M368 750v14M369 487v48M369 761v3M370 500v52M370 753v11M371 487v48M371 761v3M372 498v52M372 753v11M373 517v51M373 720v44M374 500v53M374 752v12M375 510v51M375 733v31M376 510v52M376 731v33M377 496v53M377 754v10M378 498v52M378 753v11M379 496v53M379 753v11M380 498v52M380 753v11M381 494v53M381 754v10M382 514v52M382 720v44M383 495v53M383 753v11M384 514v51M384 720v44M385 497v53M385 752v12M386 499v54M386 752v12M387 498v53M387 752v12M388 487v51M388 757v7M389 516v52M389 712v52M390 489v52M390 756v8M391 488v51M391 756v8M392 499v54M392 751v13M393 498v53M393 752v12M394 511v53M394 712v52M395 497v54M395 752v12M396 494v54M396 753v11M397 480v46M398 494v54M398 753v11M399 493v53M399 753v11M400 509v52M400 715v49M401 491v54M401 754v10M402 491v54M402 754v10M403 490v53M403 754v10M404 497v53M404 752v12M405 490v53M405 754v10M406 491v54M406 754v10M407 489v53M407 755v9M408 519v83M408 702v62M409 482v49M409 760v4M410 492v53M410 753v11M411 490v54M411 754v10M412 492v54M412 753v11M413 511v52M413 716v48M414 479v47M414 763v1M415 492v53M415 753v11M416 478v47M417 492v54M417 752v12M418 491v54M418 753v11M419 483v50M419 757v7M420 505v53M420 720v44M421 482v50M421 757v7M422 490v53M422 753v11M423 510v52M423 716v48M424 498v53M424 749v15M425 502v52M425 727v37M426 492v53M426 751v13M427 492v54M427 751v13M428 505v52M428 718v46M429 512v52M429 710v54M430 494v53M430 724v40M431 485v53M431 742v22M432 482v51M432 742v22M433 508v52M433 705v59M434 477v48M434 744v20M435 512v52M435 700v64M436 488v54M436 714v50M437 488v54M437 712v52M438 506v52M438 697v63M439 480v51M439 719v45M440 488v54M440 705v59M441 506v53M441 693v58M442 479v49M442 722v42M443 509v52M443 690v56M444 481v52M444 719v45M445 490v54M445 708v53M446 506v52M446 696v50M447 479v51M447 722v42M448 488v55M448 712v46M449 488v54M449 713v45M450 482v53M450 720v44M451 506v53M451 697v47M452 489v54M452 714v42M453 482v53M453 721v43M454 488v54M454 716v40M455 505v53M455 701v44M456 484v54M456 721v38M457 482v54M457 723v38M458 483v53M458 723v37M459 483v54M459 723v37M460 494v55M460 713v38M461 476v50M461 730v34M462 503v54M462 703v41M463 481v53M463 726v37M464 476v50M464 731v33M465 474v50M465 732v32M466 481v54M466 727v36M467 481v55M467 726v36M468 482v55M468 726v35M469 498v55M469 713v37M470 501v55M470 712v36M471 482v56M471 727v32M472 481v55M472 728v32M473 482v55M473 728v32M474 483v56M474 727v31M475 482v57M475 727v31M476 483v58M476 726v31M477 485v58M477 725v31M478 471v49M478 736v28M479 487v58M479 723v31M480 476v53M480 732v32M481 488v58M481 722v31M482 488v59M482 722v31M483 489v59M483 721v31M484 504v56M484 711v35M485 483v58M485 726v30M486 487v59M486 723v30M487 507v56M487 709v34M488 499v57M488 715v32M489 499v57M489 715v32M490 486v60M490 723v30M491 504v57M491 711v33M492 503v57M492 712v33M493 525v69M493 697v38M494 508v56M494 708v35M495 505v57M495 710v34M496 484v61M496 723v30M497 497v60M497 714v32M498 507v57M498 708v34M499 500v60M499 712v33M500 520v85M500 688v49M501 505v59M501 709v34M502 502v78M502 675v56M503 499v89M503 665v47M504 482v88M504 679v49M505 515v90M505 653v49M506 494v90M506 669v47M507 480v85M507 682v51M508 483v88M508 679v48M509 491v89M509 672v46M510 474v59M510 688v56M511 488v90M511 674v46M512 472v58M512 690v58M513 488v90M513 674v47M514 515v84M514 654v49M515 490v96M515 666v53M516 473v88M516 681v65M517 509v192M518 514v183M519 519v174M520 516v180M521 499v212M522 487v235M523 482v249M524 501v211M525 500v95M525 666v48M526 499v90M526 672v43M527 518v85M527 660v45M528 487v93M528 680v42M529 526v175M530 486v93M530 681v42M531 494v91M531 675v43M532 530v169M533 515v86M533 662v45M534 484v97M534 679v48M535 501v211M536 489v231M537 520v177M538 503v207M539 517v182M540 508v198M541 566v116M542 490v229M543 512v191M544 515v186M545 525v169M546 510v195M547 509v196M548 500v212M549 485v238M550 530v160M551 508v199M552 505v92M552 659v50M553 479v85M553 684v45M554 504v86M554 666v44M555 483v91M555 680v41M556 476v74M556 686v47M557 513v83M557 661v45M558 499v88M558 670v42M559 484v91M559 681v40M560 521v80M560 656v46M561 491v91M561 676v39M562 480v87M562 684v42M563 474v74M563 689v46M564 476v75M564 687v45M565 488v91M565 678v39M566 489v90M566 677v39M567 487v90M567 678v39M568 485v87M568 680v38M569 485v86M569 679v39M570 488v85M570 677v39M571 486v83M571 678v39M572 485v81M572 679v38M573 500v84M573 668v42M574 500v84M574 668v42M575 485v73M575 679v38M576 470v65M576 691v47M577 490v75M577 675v39M578 489v71M578 675v40M579 498v79M579 669v41M580 486v71M580 677v39M581 504v80M581 664v43M582 510v82M582 659v45M583 475v66M583 686v43M584 484v68M584 678v39M585 483v68M585 679v38M586 481v68M586 680v38M587 500v64M587 666v42M588 480v67M588 681v39M589 483v66M589 679v38M590 480v66M590 681v38M591 480v66M591 680v38M592 507v69M592 658v45M593 476v64M593 684v40M594 483v65M594 677v39M595 482v65M595 678v38M596 468v58M596 690v46M597 484v64M597 676v39M598 478v63M598 681v39M599 486v63M599 674v40M600 487v62M600 673v40M601 496v59M601 666v42M602 487v61M602 673v40M603 471v58M603 687v42M604 485v61M604 674v40M605 472v59M605 685v42M606 510v55M606 653v47M607 487v61M607 671v41M608 484v61M608 674v40M609 485v60M609 673v40M610 476v60M610 681v39M611 484v60M611 674v40M612 480v60M612 677v39M613 480v60M613 677v39M614 499v57M614 660v44M615 499v56M615 660v44M616 479v59M616 677v39M617 479v59M617 677v39M618 488v58M618 668v42M619 479v59M619 676v40M620 494v57M620 663v43M621 495v56M621 662v44M622 476v58M622 679v39M623 470v56M623 684v41M624 468v55M624 685v42M625 472v57M625 681v40M626 475v57M626 679v39M627 475v57M627 679v39M628 476v58M628 677v39M629 464v53M629 688v43M630 473v57M630 679v40M631 475v57M631 678v39M632 474v56M632 679v39M633 475v57M633 677v39M634 461v52M634 689v43M635 476v57M635 675v40M636 470v56M636 680v40M637 479v56M637 672v41M638 467v55M638 682v40M639 493v54M639 658v45M640 478v56M640 672v40M641 495v54M641 656v45M642 465v54M642 683v39M643 477v56M643 672v40M644 487v55M644 662v43M645 476v56M645 672v40M646 472v55M646 676v39M647 460v52M647 686v39M648 471v55M648 676v39M649 486v54M649 661v43M650 454v49M650 690v39M651 469v55M651 676v39M652 466v54M652 678v39M653 466v54M653 678v39M654 466v55M654 677v39M655 466v55M655 677v39M656 464v54M656 678v40M657 450v48M657 691v40M658 479v55M658 664v42M659 455v50M659 686v40M660 477v54M660 665v42M661 489v53M661 653v45M662 470v54M662 671v40M663 462v53M663 678v40M664 462v53M664 678v40M665 455v50M665 684v41M666 467v55M666 672v40M667 468v54M667 671v40M668 468v55M668 670v41M669 459v52M669 679v41M670 492v52M670 646v48M671 468v54M671 670v41M672 484v53M672 654v46M673 467v55M673 671v40M674 463v54M674 675v40M675 471v55M675 667v41M676 456v51M676 682v41M677 491v52M677 646v49M678 454v50M678 684v41M679 486v53M679 651v48M680 476v54M680 661v44M681 473v54M681 665v42M682 457v52M682 681v41M683 473v54M683 664v43M684 486v53M684 650v49M685 498v135M685 635v56M686 474v54M686 663v43M687 492v52M687 644v51M688 455v53M688 682v40M689 476v53M689 662v44M690 472v54M690 665v43M691 487v52M691 648v50M692 473v53M692 665v43M693 472v54M693 665v43M694 462v54M694 676v39M695 488v52M695 647v51M696 470v53M696 668v41M697 477v53M697 659v46M698 466v54M698 672v40M699 485v52M699 650v50M700 467v54M700 670v41M701 456v53M701 682v39M702 457v54M702 681v38M703 463v54M703 675v39M704 465v54M704 673v39M705 468v53M705 669v41M706 460v54M706 678v37M707 477v53M707 658v46M708 469v53M708 667v42M709 449v53M709 686v42M710 442v50M710 692v47M711 480v53M711 652v50M712 457v55M712 679v37M713 456v55M713 680v37M714 442v51M714 691v45M715 444v52M715 689v44M716 452v54M716 682v40M717 459v55M717 676v37M718 440v51M718 691v46M719 460v57M719 673v38M720 458v57M720 676v37M721 462v56M721 671v39M722 461v56M722 672v39M723 463v56M723 669v40M724 479v54M724 647v52M725 474v55M725 653v49M726 480v54M726 644v54M727 447v55M727 683v40M728 475v55M728 649v52M729 450v57M729 680v39M730 463v57M730 665v43M731 448v56M731 680v43M731 760v4M732 450v58M732 677v43M732 758v6M733 467v57M733 655v50M734 477v55M734 640v58M735 454v60M735 670v44M735 749v15M736 436v52M736 687v77M737 469v57M737 647v56M737 755v9M738 462v59M738 656v51M738 745v19M739 464v59M739 652v54M739 744v20M740 462v59M740 655v53M740 740v24M741 436v52M741 686v71M742 434v50M742 689v64M743 438v52M743 684v69M744 453v58M744 667v94M745 436v49M745 688v60M746 454v58M746 664v92M747 443v51M747 679v69M748 447v53M748 675v74M749 460v295M750 444v51M750 666v82M751 464v254M751 730v26M752 463v257M752 729v27M753 461v63M753 654v101M754 444v54M754 678v69M755 463v65M755 651v74M755 727v29M756 467v67M756 639v74M756 730v27M757 464v68M757 648v108M758 476v66M758 617v89M758 733v27M759 465v70M759 643v113M760 465v71M760 642v113M761 450v65M761 668v79M762 455v71M762 658v93M763 448v66M763 670v75M764 465v75M764 636v118M765 467v75M765 632v122M766 467v76M766 631v123M767 466v76M767 632v121M768 465v73M768 635v117M769 466v69M769 633v119M770 468v66M770 627v125M771 437v49M771 671v75M772 464v239M772 736v23M773 449v55M773 616v137M774 448v52M774 625v127M775 471v221M775 742v20M776 464v57M776 636v114M777 461v57M777 645v104M778 475v55M778 626v126M779 457v57M779 692v55M780 458v56M780 702v46M781 445v50M781 720v5M782 464v56M782 694v55M783 475v54M783 679v72M784 444v50M784 720v5M785 471v54M785 685v65M786 445v50M786 718v9M787 451v53M787 711v26M788 444v50M788 720v5M789 450v53M789 711v25M790 449v52M790 713v21M791 449v51M791 713v21M792 470v54M792 685v63M793 465v53M793 692v54M794 452v53M794 709v30M795 437v45M796 441v47M797 449v52M797 712v23M798 451v52M798 710v27M799 473v52M799 681v67M800 447v50M800 715v16M801 451v52M801 710v27M802 460v53M802 697v46M803 452v52M803 708v32M804 465v52M804 691v54M805 450v51M805 711v25M806 458v52M806 700v42M807 445v49M807 717v11M808 466v51M808 690v54M809 451v51M809 709v29M810 448v50M810 712v21M811 460v51M811 697v45M812 444v47M812 719v7M813 449v49M813 712v22M814 449v50M814 711v23M815 467v51M815 688v55M816 448v50M816 712v21M817 438v44M818 450v50M818 709v27M819 456v51M819 701v38M820 453v51M820 705v33M821 449v50M821 709v26M822 450v50M822 708v28M823 470v51M823 684v58M824 451v51M824 706v31M825 449v51M825 708v27M826 445v48M826 716v12M827 438v45M828 450v50M829 452v45M830 467v42M831 452v39M832 467v36M833 465v34M834 451v35M835 458v36M836 462v37M837 458v36M838 440v35M839 445v35M840 445v35M841 462v44M842 458v45M843 463v53M844 460v50M845 448v35M846 448v35M847 434v35M848 449v36M849 464v53M850 434v36M851 444v35M852 449v38M853 459v47M854 450v37M855 443v35M856 451v38M857 450v39M858 453v40M859 464v50M860 452v39M861 445v36M862 454v40M863 439v35M864 463v46M865 452v39M866 445v36M867 437v35M868 453v39M869 459v43M870 439v36M871 443v35M872 463v45M873 459v42M874 450v39M875 449v37M876 448v38M877 448v38M878 463v43M879 448v38M880 448v37M881 448v37M882 448v37M883 448v37M884 464v43M885 445v37M886 434v36M887 462v43M888 446v37M889 445v36M890 432v36M891 444v37M892 444v36M893 431v36M894 449v39M895 434v36M896 438v36M897 437v36M898 435v37M899 430v36M900 437v36M901 460v42M902 422v35M903 426v35M904 431v36M905 435v37M906 436v36M907 450v39M908 451v40M909 446v38M910 445v38M911 437v37M912 426v35M913 451v41M914 445v38M915 437v37M916 437v37M917 424v36M918 422v36M919 430v37M920 438v37M921 439v37M922 451v39M923 439v37M924 448v39M925 441v37M926 449v39M927 442v37M928 454v41M929 449v39M930 445v37M931 452v39M932 456v41M933 435v36M934 441v36M935 410v38M936 437v36M937 459v42M938 436v36M939 436v37M940 454v39M941 467v45M942 464v44M943 467v45M943 725v21M944 455v40M945 463v43M946 465v44M946 734v12M947 452v38M948 465v44M948 729v18M949 471v47M949 714v35M950 449v37M951 459v42M952 444v36M953 458v41M954 453v39M955 423v38M956 441v36M957 440v36M958 429v38M959 441v36M960 431v38M961 425v38M962 441v37M963 442v37M964 454v41M965 442v38M966 448v38M967 458v41M968 453v41M969 444v39M970 448v39M971 442v39M972 443v38M973 430v39M974 444v39M975 431v39M976 443v39M977 445v40M978 444v39M979 444v39M980 453v41M981 444v40M982 429v39M983 446v41M984 361v44M985 116v126M985 747v1M986 120v121M987 138v112M987 740v9M988 116v111M989 116v110M990 116v84M991 227v52M992 216v53M993 245v58M994 116v106M995 165v81M996 142v93M997 166v80M998 172v77M999 149v89M1000 138v95M1001 168v79M1002 166v80M1003 129v101M1004 118v118M1005 116v122M1006 116v82M1007 116v112M1008 122v131M1008 726v25M1009 116v120M1009 739v10M1010 116v116M1010 739v10M1011 116v130M1011 725v26M1012 116v136M1012 718v34M1013 116v108M1013 743v6M1014 116v82M1015 116v115M1015 734v16M1016 116v113M1016 724v27M1017 742v7M1018 746v2"/>
<path stroke="#FFBF00" d="M179 572v139M180 572v146M181 571v164M182 576v151M183 579v155M184 571v180M185 549v213M186 570v182M187 567v186M188 631v67M189 562v193M190 576v173M191 578v170M192 635v62M193 557v201M194 570v182M195 568v185M196 571v181M197 569v184M198 569v184M199 556v202M200 547v217M201 568v186M202 605v107M204 613v95M205 621v83M206 562v194M207 565v190M208 580v139M209 579v157M210 579v153M211 580v138M212 549v215M213 562v195M214 578v172M215 553v209M216 576v175M217 566v190M218 554v208M219 552v211M220 567v190M221 607v106M222 568v189M223 569v188M224 568v190M225 579v171M226 567v192M227 553v211M228 568v190M229 605v110M230 567v192M231 621v86M232 578v177M233 579v172M234 551v213M235 568v190M236 542v222M237 566v193M238 567v192M239 566v193M240 566v193M241 564v196M242 542v222M243 549v215M244 544v220M245 572v185M246 543v221M247 563v197M248 574v182M249 563v197M250 537v227M251 562v198M252 562v198M253 574v182M254 564v196M255 564v196M256 564v196M257 564v196M258 557v205M259 577v178M260 567v192M261 567v191M262 614v96M263 571v186M264 572v185M265 572v184M266 561v199M267 554v209M268 557v205M269 625v79M270 576v179M271 558v203M272 577v178M273 644v50M274 574v181M275 555v207M276 565v194M277 609v104M278 554v209M279 574v182M280 571v186M281 557v204M282 571v185M283 571v186M284 622v79M285 570v185M286 572v179M287 559v198M288 551v211M289 572v127M290 573v125M291 551v211M292 571v131M293 561v194M294 573v125M295 573v125M296 549v214M297 550v213M298 571v129M299 618v70M300 569v182M302 580v112M303 570v180M304 556v203M305 576v120M306 555v204M307 629v58M308 543v221M309 564v190M310 566v187M311 549v214M312 576v120M313 568v184M314 539v225M315 565v189M316 546v218M317 566v187M318 566v187M319 565v189M320 563v192M321 540v224M322 561v195M323 534v230M324 558v200M325 579v116M326 582v110M327 569v183M328 559v199M329 544v220M330 556v203M331 561v196M332 562v195M333 563v193M334 566v189M335 541v223M336 579v172M337 555v206M338 614v87M339 548v216M340 575v178M341 576v176M342 555v206M343 578v174M344 561v197M345 572v182M346 569v184M347 576v141M348 556v199M349 543v217M350 550v205M351 550v204M352 558v193M353 560v160M354 560v158M355 545v211M356 546v209M357 545v210M358 565v145M359 549v205M360 548v206M361 548v206M362 551v202M363 548v206M364 562v156M365 535v227M366 605v102M367 538v220M368 558v192M369 535v66M369 705v56M370 552v57M370 701v52M371 535v51M371 714v47M372 550v50M372 708v45M373 568v50M373 697v23M374 553v50M374 705v47M375 561v50M375 700v33M376 562v49M376 699v32M377 549v49M377 705v49M378 550v50M378 704v49M379 549v50M379 704v49M380 550v52M380 703v50M381 547v52M381 704v50M382 566v63M382 691v29M383 548v62M383 699v54M384 565v93M384 663v57M385 550v79M385 693v59M386 553v95M386 678v74M387 551v107M387 662v90M388 538v107M388 679v78M389 568v144M390 541v215M391 539v217M392 553v198M393 551v201M394 564v148M395 551v201M396 548v205M397 526v238M398 548v205M399 546v207M400 561v154M401 545v209M402 545v209M403 543v211M404 550v202M405 543v211M406 545v209M407 542v213M408 602v100M409 531v96M409 690v70M410 545v109M410 666v87M411 544v92M411 684v70M412 546v93M412 681v72M413 563v153M414 526v74M414 701v62M415 545v93M415 682v71M416 525v72M416 703v61M417 546v94M417 680v72M418 545v92M418 683v70M419 533v82M419 695v62M420 558v162M421 532v81M421 696v61M422 543v92M422 685v68M423 562v154M424 551v102M424 667v82M425 554v173M426 545v96M426 680v71M427 546v96M427 678v73M428 557v161M429 564v146M430 547v99M430 674v50M431 538v87M431 690v52M432 533v84M432 692v50M433 560v145M434 525v76M434 695v49M435 564v136M436 542v172M437 542v170M438 558v139M439 531v188M440 542v163M441 559v134M442 528v194M443 561v129M444 533v186M445 544v164M446 558v138M447 530v192M448 543v169M449 542v171M450 535v185M451 559v138M452 543v171M453 535v186M454 542v174M455 558v143M456 538v183M457 536v187M458 536v187M459 537v186M460 549v164M461 526v204M462 557v146M463 534v192M464 526v205M465 524v208M466 535v192M467 536v190M468 537v189M469 553v160M470 556v156M471 538v99M471 673v54M472 536v94M472 680v48M473 537v95M473 677v51M474 539v100M474 671v56M475 539v97M475 674v53M476 541v101M476 668v58M477 543v105M477 662v63M478 520v71M478 696v40M479 545v109M479 656v67M480 529v81M480 690v42M481 546v176M482 547v175M483 548v173M484 560v151M485 541v97M485 672v54M486 546v177M487 563v146M488 556v159M489 556v159M490 546v106M490 658v65M491 561v150M492 560v152M493 594v103M494 564v144M495 562v148M496 545v178M497 557v157M498 564v144M499 560v152M500 605v83M501 564v145M502 580v95M503 588v77M504 570v109M505 605v48M506 584v85M507 565v117M508 571v108M509 580v92M510 533v155M511 578v96M512 530v160M513 578v96M514 599v55M515 586v80M516 561v120M525 595v71M526 589v83M527 603v57M528 580v100M530 579v102M531 585v90M533 601v61M534 581v98M552 597v62M553 564v120M554 590v76M555 574v106M556 550v136M557 596v65M558 587v83M559 575v106M560 601v55M561 582v94M562 567v117M563 548v141M564 551v136M565 579v99M566 579v98M567 577v101M568 572v108M569 571v108M570 573v104M571 569v109M572 566v113M573 584v84M574 584v84M575 558v121M576 535v156M577 565v110M578 560v115M579 577v92M580 557v120M581 584v80M582 592v67M583 541v145M584 552v126M585 551v128M586 549v131M587 564v102M588 547v134M589 549v130M590 546v135M591 546v134M592 576v82M593 540v144M594 548v129M595 547v131M596 526v164M597 548v128M598 541v140M599 549v125M600 549v124M601 555v111M602 548v125M603 529v158M604 546v128M605 531v154M606 565v88M607 548v123M608 545v129M609 545v128M610 536v145M611 544v130M612 540v137M613 540v137M614 556v104M615 555v105M616 538v139M617 538v139M618 546v122M619 538v138M620 551v112M621 551v111M622 534v145M623 526v158M624 523v162M625 529v152M626 532v147M627 532v147M628 534v143M629 517v171M630 530v149M631 532v146M632 530v149M633 532v145M634 513v176M635 533v142M636 526v154M637 535v137M638 522v160M639 547v111M640 534v138M641 549v107M642 519v164M643 533v139M644 542v120M645 532v140M646 527v149M647 512v174M648 526v150M649 540v121M650 503v53M650 642v48M651 524v152M652 520v158M653 520v158M654 521v156M655 521v156M656 518v160M657 498v53M657 643v48M658 534v130M659 505v181M660 531v134M661 542v111M662 524v147M663 515v163M664 515v163M665 505v179M666 522v150M667 522v149M668 523v147M669 511v168M670 544v102M671 522v148M672 537v117M673 522v149M674 517v158M675 526v141M676 507v175M677 543v103M678 504v180M679 539v112M680 530v131M681 527v138M682 509v172M683 527v137M684 539v111M685 633v2M686 528v135M687 544v100M688 508v174M689 529v133M690 526v139M691 539v109M692 526v139M693 526v139M694 516v160M695 540v107M696 523v145M697 530v129M698 520v152M699 537v113M700 521v149M701 509v173M702 511v170M703 517v158M704 519v154M705 521v148M706 514v164M707 530v128M708 522v145M709 502v184M710 492v200M711 533v119M712 512v167M713 511v169M714 493v198M715 496v193M716 506v176M717 514v162M718 491v200M719 517v156M720 515v161M721 518v153M722 517v155M723 519v150M724 533v114M725 529v124M726 534v110M727 502v181M728 530v119M729 507v173M730 520v145M731 504v176M732 508v169M733 524v131M734 532v108M735 514v156M736 488v199M737 526v121M738 521v135M739 523v129M740 521v134M741 488v198M741 757v7M742 484v205M742 753v11M743 490v194M743 753v11M744 511v156M744 761v3M745 485v203M745 748v16M746 512v152M746 756v8M747 494v185M747 748v16M748 500v175M748 749v15M749 755v9M750 495v171M750 748v16M751 756v8M752 756v8M753 524v130M753 755v9M754 498v180M754 747v17M755 528v123M755 756v8M756 534v105M756 757v7M757 532v116M757 756v8M758 542v75M758 760v4M759 535v108M759 756v8M760 536v106M760 755v9M761 515v153M761 747v17M762 526v132M762 751v13M763 514v156M763 745v19M764 540v96M764 754v10M765 542v90M765 754v10M766 543v88M766 754v10M767 542v90M767 753v11M768 538v97M768 752v12M769 535v98M769 752v12M770 534v93M770 752v12M771 486v185M771 746v18M772 759v5M773 504v112M773 753v11M774 500v125M774 752v12M775 762v2M776 521v115M776 750v14M777 518v127M777 749v14M778 530v96M778 752v12M779 514v178M779 747v14M780 514v188M780 748v12M781 495v225M781 725v31M782 520v174M782 749v14M783 529v150M783 751v13M784 494v226M784 725v31M785 525v160M785 750v14M786 495v223M786 727v29M787 504v207M787 737v21M788 494v226M788 725v30M789 503v208M789 736v21M790 501v212M790 734v23M791 500v213M791 734v22M792 524v161M792 748v16M793 518v174M793 746v16M794 505v204M794 739v18M795 482v53M795 665v87M796 488v265M797 501v211M797 735v21M798 503v207M798 737v19M799 525v156M799 748v16M800 497v218M800 731v23M801 503v207M801 737v19M802 513v184M802 743v17M803 504v204M803 740v16M804 517v174M804 745v17M805 501v210M805 736v18M806 510v190M806 742v16M807 494v223M807 728v24M808 517v173M808 744v18M809 502v207M809 738v16M810 498v214M810 733v20M811 511v186M811 742v16M812 491v228M812 726v25M813 498v214M813 734v19M814 499v212M814 734v19M815 518v170M815 743v18M816 498v214M816 733v19M817 482v51M817 665v83M818 500v209M818 736v16M819 507v194M819 739v16M820 504v201M820 738v15M821 499v210M821 735v16M822 500v208M822 736v15M823 521v163M823 742v20M824 502v204M824 737v14M825 500v208M825 735v15M826 493v223M826 728v20M827 483v51M827 671v73M828 500v86M828 655v93M829 497v65M829 661v86M830 509v247M831 491v73M831 663v85M832 503v258M833 499v99M833 651v110M834 486v87M834 665v85M835 494v92M835 658v97M836 499v93M836 654v104M837 494v89M837 659v95M838 475v44M838 678v53M839 480v50M839 672v69M840 480v54M840 672v68M841 506v83M841 655v101M842 503v79M842 658v95M843 516v74M843 653v104M844 510v74M844 657v97M845 483v79M845 669v74M846 483v79M846 668v75M847 469v62M847 688v34M848 485v76M848 668v74M849 517v73M849 653v100M850 470v59M850 688v35M851 479v69M851 674v62M852 487v71M852 668v73M853 506v68M853 658v90M854 487v69M854 668v73M855 478v64M855 676v58M856 489v67M856 667v74M857 489v66M857 667v74M858 493v65M858 665v77M859 514v69M859 653v95M860 491v63M860 666v75M861 481v62M861 673v64M862 494v62M862 665v76M863 474v56M863 686v43M864 509v61M864 655v91M865 491v60M865 670v71M866 481v58M866 683v54M867 472v52M867 701v24M868 492v57M868 676v65M869 502v57M869 665v79M870 475v52M870 701v27M871 478v54M871 696v37M872 508v61M872 659v87M873 501v57M873 677v67M874 489v53M874 691v49M875 486v53M875 694v45M876 486v52M876 696v43M877 486v51M877 698v41M878 506v58M878 683v63M879 486v50M879 700v39M880 485v51M880 701v37M881 485v50M881 703v34M882 485v51M882 704v33M883 485v51M883 705v31M884 507v69M884 683v63M885 482v50M885 714v13M886 470v46M887 505v58M887 686v58M888 483v50M888 717v6M889 481v50M890 468v45M891 481v49M892 480v50M893 467v45M894 488v51M895 470v46M896 474v48M897 473v47M898 472v46M899 466v45M900 473v47M901 502v55M901 703v37M902 457v42M903 461v44M904 467v45M905 472v47M906 472v47M907 489v50M908 491v51M909 484v49M910 483v49M911 474v47M912 461v44M913 492v51M914 483v50M915 474v47M916 474v47M917 460v44M918 458v42M919 467v45M920 475v47M921 476v47M922 490v51M923 476v48M924 487v51M925 478v48M926 488v53M927 479v50M928 495v55M928 727v7M929 488v53M930 482v51M931 491v54M932 497v56M932 722v20M933 471v47M934 477v49M935 448v38M936 473v48M937 501v57M937 714v40M938 472v48M939 473v47M940 493v55M940 722v21M941 512v61M941 695v69M942 508v62M942 693v71M943 512v101M943 634v91M943 746v18M944 495v56M944 697v59M945 506v73M945 678v86M946 509v90M946 650v84M946 746v18M947 490v55M947 700v54M948 509v92M948 647v82M948 747v17M949 518v196M949 749v15M950 486v53M950 703v50M951 501v57M951 693v68M952 480v50M952 707v45M953 499v58M953 694v66M954 492v55M954 699v56M955 461v44M955 732v15M956 477v48M956 709v42M957 476v48M957 710v41M958 467v45M958 717v32M959 477v49M959 709v43M960 469v45M960 716v33M961 463v44M961 720v28M962 478v48M962 709v43M963 479v48M963 708v44M964 495v54M964 697v60M965 480v48M965 708v44M966 486v52M966 703v51M967 499v57M967 694v66M968 494v54M968 698v58M969 483v49M969 706v47M970 487v51M970 703v51M971 481v48M971 707v45M972 481v48M972 707v45M973 469v45M973 716v33M974 483v48M974 706v47M975 470v44M975 717v32M976 482v48M976 713v37M977 485v48M977 725v19M978 483v47M979 483v47M980 494v53M981 484v46M982 468v43M983 487v48M984 405v48M984 699v56M985 242v93M985 688v59M985 748v12M986 241v90M986 689v69M987 250v93M987 686v54M987 749v13M988 227v90M988 691v66M989 226v84M989 693v63M990 200v83M990 711v42M991 279v62M991 700v54M992 269v63M992 715v37M993 303v57M993 688v72M994 222v67M994 730v20M995 246v75M995 701v53M996 235v71M996 715v37M997 246v76M997 701v53M998 249v77M998 696v59M999 238v72M999 712v41M1000 233v69M1000 718v34M1001 247v75M1001 700v54M1002 246v75M1002 701v53M1003 230v71M1003 717v35M1004 236v83M1004 692v64M1005 238v92M1005 689v70M1006 198v89M1006 702v52M1007 228v94M1007 689v69M1008 253v98M1008 683v43M1008 751v13M1009 236v101M1009 686v53M1009 749v13M1010 232v103M1010 686v53M1010 749v13M1011 246v103M1011 683v42M1011 751v13M1012 252v103M1012 681v37M1012 752v12M1013 224v105M1013 687v56M1013 749v12M1014 198v106M1014 690v68M1015 231v106M1015 685v49M1015 750v13M1016 229v114M1016 683v41M1016 751v13M1017 116v155M1017 687v55M1017 749v13M1018 116v145M1018 687v59M1018 748v13"/>
<path stroke="#FF7F00" d="M369 601v104M370 609v92M371 586v128M372 600v108M373 618v79M374 603v102M375 611v89M376 611v88M377 598v107M378 600v104M379 599v105M380 602v101M381 599v105M382 629v62M383 610v89M384 658v5M385 629v64M386 648v30M387 658v4M388 645v34M409 627v63M410 654v12M411 636v48M412 639v42M414 600v101M415 638v44M416 597v106M417 640v40M418 637v46M419 615v80M421 613v83M422 635v50M424 653v14M426 641v39M427 642v36M430 646v28M431 625v65M432 617v75M434 601v94M471 637v36M472 630v50M473 632v45M474 639v32M475 636v38M476 642v26M477 648v14M478 591v105M479 654v2M480 610v80M485 638v34M490 652v6M650 556v86M657 551v92M777 763v1M779 761v3M780 760v4M781 756v8M782 763v1M784 756v8M786 756v8M787 758v6M788 755v9M789 757v7M790 757v7M791 756v8M793 762v2M794 757v7M795 535v130M795 752v12M796 753v11M797 756v8M798 756v8M800 754v10M801 756v8M802 760v4M803 756v8M804 762v2M805 754v10M806 758v6M807 752v12M808 762v2M809 754v10M810 753v11M811 758v6M812 751v13M813 753v11M814 753v11M815 761v3M816 752v12M817 533v132M817 748v16M818 752v12M819 755v9M820 753v11M821 751v13M822 751v13M823 762v2M824 751v13M825 750v14M826 748v16M827 534v137M827 744v20M828 586v69M828 748v16M829 562v99M829 747v17M830 756v8M831 564v99M831 748v16M832 761v3M833 598v53M833 761v3M834 573v92M834 750v14M835 586v72M835 755v9M836 592v62M836 758v6M837 583v76M837 754v10M838 519v159M838 731v33M839 530v142M839 741v23M840 534v138M840 740v24M841 589v66M841 756v8M842 582v76M842 753v11M843 590v63M843 757v7M844 584v73M844 754v10M845 562v107M845 743v21M846 562v106M846 743v21M847 531v157M847 722v39M848 561v107M848 742v22M849 590v63M849 753v11M850 529v159M850 723v35M851 548v126M851 736v28M852 558v110M852 741v23M853 574v84M853 748v16M854 556v112M854 741v23M855 542v134M855 734v26M856 556v111M856 741v23M857 555v112M857 741v22M858 558v107M858 742v22M859 583v70M859 748v16M860 554v112M860 741v21M861 543v130M861 737v19M862 556v109M862 741v21M863 530v156M863 729v24M864 570v85M864 746v18M865 551v119M865 741v20M866 539v144M866 737v20M867 524v177M867 725v27M868 549v127M868 741v21M869 559v106M869 744v20M870 527v174M870 728v26M871 532v164M871 733v23M872 569v90M872 746v18M873 558v119M873 744v20M874 542v149M874 740v21M875 539v155M875 739v21M876 538v158M876 739v20M877 537v161M877 739v20M878 564v119M878 746v18M879 536v164M879 739v20M880 536v165M880 738v21M881 535v168M881 737v22M882 536v168M882 737v23M883 536v169M883 736v24M884 576v107M884 746v18M885 532v182M885 727v31M886 516v235M887 563v123M887 744v20M888 533v184M888 723v36M889 531v227M890 513v237M891 530v228M892 530v228M893 512v237M894 539v225M895 516v235M896 522v232M897 520v234M898 518v238M899 511v99M899 632v120M900 520v244M901 557v146M901 740v24M902 499v54M902 709v30M903 505v54M903 699v53M904 512v52M904 693v71M905 519v50M905 688v76M906 519v50M906 687v77M907 539v75M907 638v126M908 542v79M908 630v134M909 533v63M909 657v107M910 532v62M910 659v105M911 521v50M911 684v80M912 505v53M912 700v60M913 543v81M913 626v138M914 533v63M914 658v106M915 521v51M915 684v80M916 521v51M916 684v80M917 504v53M917 701v56M918 500v54M918 704v45M919 512v52M919 693v71M920 522v50M920 683v81M921 523v56M921 676v88M922 541v223M923 524v240M924 538v226M925 526v238M926 541v223M927 529v73M927 662v102M928 550v177M928 734v30M929 541v81M929 640v124M930 533v67M930 668v96M931 545v219M932 553v169M932 742v22M933 518v58M933 693v71M934 526v57M934 687v77M935 486v53M936 521v57M936 691v73M937 558v156M937 754v10M938 520v57M938 692v72M939 520v57M939 692v72M940 548v174M940 743v21M941 573v122M942 570v123M943 613v21M944 551v146M944 756v8M945 579v99M946 599v51M947 545v155M947 754v10M948 601v46M950 539v164M950 753v11M951 558v135M951 761v3M952 530v177M952 752v12M953 557v137M953 760v4M954 547v152M954 755v9M955 505v71M955 668v64M955 747v17M956 525v184M956 751v13M957 524v186M957 751v13M958 512v205M958 749v15M959 526v183M959 752v12M960 514v202M960 749v15M961 507v80M961 656v64M961 748v16M962 526v183M962 752v12M963 527v181M963 752v12M964 549v148M964 757v7M965 528v180M965 752v12M966 538v165M966 754v10M967 556v138M967 760v4M968 548v150M968 756v8M969 532v174M969 753v11M970 538v165M970 754v10M971 529v178M971 752v12M972 529v178M972 752v12M973 514v202M973 749v15M974 531v175M974 753v11M975 514v203M975 749v15M976 530v183M976 750v14M977 533v192M977 744v20M978 530v234M979 530v234M980 547v217M981 530v234M982 511v105M982 625v139M983 535v229M984 453v58M984 663v36M984 755v9M985 335v66M985 671v17M985 760v4M986 331v66M986 673v16M986 758v6M987 343v64M987 669v17M987 762v2M988 317v75M988 674v17M988 757v7M989 310v76M989 676v17M989 756v8M990 283v86M990 680v31M990 753v11M991 341v49M991 678v22M991 754v10M992 332v49M992 681v34M992 752v12M993 360v46M993 671v17M993 760v4M994 289v73M994 684v46M994 750v14M995 321v63M995 678v23M995 754v10M996 306v67M996 681v34M996 752v12M997 322v62M997 678v23M997 754v10M998 326v61M998 677v19M998 755v9M999 310v66M999 680v32M999 753v11M1000 302v69M1000 681v37M1000 752v12M1001 322v62M1001 678v22M1001 754v10M1002 321v62M1002 678v23M1002 754v10M1003 301v70M1003 681v36M1003 752v12M1004 319v70M1004 675v17M1004 756v8M1005 330v67M1005 672v17M1005 759v5M1006 287v89M1006 678v24M1006 754v10M1007 322v74M1007 673v16M1007 758v6M1008 351v66M1008 667v16M1009 337v70M1009 669v17M1009 762v2M1010 335v71M1010 669v17M1010 762v2M1011 349v69M1011 666v17M1012 355v68M1012 665v16M1013 329v74M1013 670v17M1013 761v3M1014 304v89M1014 673v17M1014 758v6M1015 337v73M1015 668v17M1015 763v1M1016 343v75M1016 666v17M1017 271v130M1017 670v17M1017 762v2M1018 261v135M1018 671v16M1018 761v3"/>
<path stroke="#FF3F00" d="M847 761v3M850 758v6M855 760v4M857 763v1M860 762v2M861 756v8M862 762v2M863 753v11M865 761v3M866 757v7M867 752v12M868 762v2M870 754v10M871 756v8M874 761v3M875 760v4M876 759v5M877 759v5M879 759v5M880 759v5M881 759v5M882 760v4M883 760v4M885 758v6M886 751v13M888 759v5M889 758v6M890 750v14M891 758v6M892 758v6M893 749v15M895 751v13M896 754v10M897 754v10M898 756v8M899 610v22M899 752v12M902 553v156M902 739v25M903 559v140M903 752v12M904 564v129M905 569v119M906 569v118M907 614v24M908 621v9M909 596v61M910 594v65M911 571v113M912 558v142M912 760v4M913 624v2M914 596v62M915 572v112M916 572v112M917 557v144M917 757v7M918 554v150M918 749v15M919 564v129M920 572v111M921 579v97M927 602v60M929 622v18M930 600v68M933 576v117M934 583v104M935 539v78M935 645v119M936 578v113M938 577v115M939 577v115M955 576v92M961 587v69M982 616v9M984 511v152M985 401v68M985 654v17M986 397v63M986 656v17M987 407v71M987 652v17M988 392v61M988 657v17M989 386v56M989 660v16M990 369v58M990 664v16M991 390v45M991 662v16M992 381v44M992 664v17M993 406v62M993 654v17M994 362v53M994 668v16M995 384v51M995 662v16M996 373v52M996 664v17M997 384v51M997 662v16M998 387v51M998 661v16M999 376v51M999 664v16M1000 371v51M1000 665v16M1001 384v51M1001 661v17M1002 383v51M1002 662v16M1003 371v53M1003 665v16M1004 389v55M1004 659v16M1005 397v65M1005 656v16M1006 376v58M1006 662v16M1007 396v64M1007 656v17M1008 417v78M1008 649v18M1009 407v72M1009 652v17M1010 406v73M1010 652v17M1011 418v78M1011 649v17M1012 423v82M1012 647v18M1013 403v71M1013 653v17M1014 393v65M1014 656v17M1015 410v74M1015 651v17M1016 418v79M1016 648v18M1017 401v75M1017 653v17M1018 396v75M1018 654v17"/>
<path stroke="#FF0000" d="M935 617v28M985 469v116M985 598v56M986 460v109M986 611v45M987 478v174M988 453v103M988 622v35M989 442v95M989 638v22M990 427v85M990 645v19M991 435v90M991 643v19M992 425v83M992 646v18M993 468v116M993 599v55M994 415v75M994 650v18M995 435v90M995 643v19M996 425v83M996 646v18M997 435v90M997 643v19M998 438v92M998 642v19M999 427v85M999 645v19M1000 422v82M1000 647v18M1001 435v90M1001 643v18M1002 434v90M1002 643v19M1003 424v82M1003 647v18M1004 444v98M1004 634v25M1005 462v111M1005 608v48M1006 434v90M1006 643v19M1007 460v110M1007 611v45M1008 495v154M1009 479v173M1010 479v173M1011 496v153M1012 505v142M1013 474v179M1014 458v108M1014 614v42M1015 484v167M1016 497v151M1017 476v177M1018 471v117M1018 595v59"/>
<path stroke="#BF0000" d="M985 585v13M986 569v42M988 556v66M989 537v101M990 512v133M991 525v118M992 508v138M993 584v15M994 490v160M995 525v118M996 508v138M997 525v118M998 530v112M999 512v133M1000 504v143M1001 525v118M1002 524v119M1003 506v141M1004 542v92M1005 573v35M1006 524v119M1007 570v41M1014 566v48M1018 588v7"/></g></g></g>
<path class="ax" d="M179.5 116V764.5H989M179.5 764.5V781.5M215.5 764.5V781.5M250.5 764.5V781.5M285.5 764.5V781.5M320.5 764.5V781.5M355.5 764.5V781.5M390.5 764.5V781.5M426.5 764.5V781.5M461.5 764.5V781.5M496.5 764.5V781.5M531.5 764.5V781.5M566.5 764.5V781.5M601.5 764.5V781.5M637.5 764.5V781.5M672.5 764.5V781.5M707.5 764.5V781.5M742.5 764.5V781.5M777.5 764.5V781.5M812.5 764.5V781.5M848.5 764.5V781.5M883.5 764.5V781.5M918.5 764.5V781.5M953.5 764.5V781.5M988.5 764.5V781.5M172 764.5H179.5M172 656.5H179.5M172 548.5H179.5M172 440.5H179.5M172 332.5H179.5M172 224.5H179.5M172 116.5H179.5"/>
<text class="xl" x="179.7" y="790.8">00</text><text class="xl" x="214.9" y="790.8">01</text><text class="xl" x="250.0" y="790.8">02</text><text class="xl" x="285.2" y="790.8">03</text><text class="xl" x="320.3" y="790.8">04</text><text class="xl" x="355.5" y="790.8">05</text><text class="xl" x="390.7" y="790.8">06</text><text class="xl" x="425.8" y="790.8">07</text><text class="xl" x="461.0" y="790.8">08</text><text class="xl" x="496.1" y="790.8">09</text><text class="xl" x="531.3" y="790.8">10</text><text class="xl" x="566.5" y="790.8">11</text><text class="xl" x="601.6" y="790.8">12</text><text class="xl" x="636.8" y="790.8">13</text><text class="xl" x="671.9" y="790.8">14</text><text class="xl" x="707.1" y="790.8">15</text><text class="xl" x="742.3" y="790.8">16</text><text class="xl" x="777.4" y="790.8">17</text><text class="xl" x="812.6" y="790.8">18</text><text class="xl" x="847.7" y="790.8">19</text><text class="xl" x="882.9" y="790.8">20</text><text class="xl" x="918.1" y="790.8">21</text><text class="xl" x="953.2" y="790.8">22</text><text class="xl" x="988.4" y="790.8">23</text>
<text class="yl" x="164" y="771.5">0.0</text><text class="yl" x="164" y="663.5">0.5</text><text class="yl" x="164" y="555.5">1.0</text><text class="yl" x="164" y="447.5">1.5</text><text class="yl" x="164" y="339.5">2.0</text><text class="yl" x="164" y="231.5">2.5</text><text class="yl" x="164" y="123.5">3.0</text>
<text x="619.5" y="828.7" text-anchor="middle" font-size="18.3">Hours (UTC)</text>
<text transform="translate(88.5,548) rotate(-90)" text-anchor="middle" font-size="18.1">Height (km)</text>
<g shape-rendering="crispEdges"><rect x="1031" y="726.00" width="25" height="39.00" fill="#00007F"/><rect x="1031" y="688.00" width="25" height="39.00" fill="#0000BF"/><rect x="1031" y="650.00" width="25" height="39.00" fill="#0000FF"/><rect x="1031" y="612.00" width="25" height="39.00" fill="#003FFF"/><rect x="1031" y="574.00" width="25" height="39.00" fill="#007FFF"/><rect x="1031" y="536.00" width="25" height="39.00" fill="#00BFFF"/><rect x="1031" y="498.00" width="25" height="39.00" fill="#00FFFF"/><rect x="1031" y="460.00" width="25" height="39.00" fill="#3FFFBF"/><rect x="1031" y="421.00" width="25" height="40.00" fill="#7FFF7F"/><rect x="1031" y="383.00" width="25" height="39.00" fill="#BFFF3F"/><rect x="1031" y="345.00" width="25" height="39.00" fill="#FFFF00"/><rect x="1031" y="307.00" width="25" height="39.00" fill="#FFBF00"/><rect x="1031" y="269.00" width="25" height="39.00" fill="#FF7F00"/><rect x="1031" y="231.00" width="25" height="39.00" fill="#FF3F00"/><rect x="1031" y="193.00" width="25" height="39.00" fill="#FF0000"/><rect x="1031" y="155.00" width="25" height="39.00" fill="#BF0000"/><rect x="1031" y="116.00" width="25" height="40.00" fill="#7F0000"/></g>
<path class="ax" d="M1031.5 116.5H1055.5V764.5H1031.5ZM1031.5 155.5H1055.5M1031.5 193.5H1055.5M1031.5 231.5H1055.5M1031.5 269.5H1055.5M1031.5 307.5H1055.5M1031.5 345.5H1055.5M1031.5 383.5H1055.5M1031.5 421.5H1055.5M1031.5 460.5H1055.5M1031.5 498.5H1055.5M1031.5 536.5H1055.5M1031.5 574.5H1055.5M1031.5 612.5H1055.5M1031.5 650.5H1055.5M1031.5 688.5H1055.5M1031.5 726.5H1055.5M1055.5 764.5H1063.5M1055.5 669.5H1063.5M1055.5 574.5H1063.5M1055.5 479.5H1063.5M1055.5 383.5H1063.5M1055.5 288.5H1063.5M1055.5 193.5H1063.5"/>
<text class="cl" x="1070" y="771.7">260</text><text class="cl" x="1070" y="676.4">265</text><text class="cl" x="1070" y="581.1">270</text><text class="cl" x="1070" y="485.8">275</text><text class="cl" x="1070" y="390.5">280</text><text class="cl" x="1070" y="295.2">285</text><text class="cl" x="1070" y="199.9">290</text>
</svg></body></html>
